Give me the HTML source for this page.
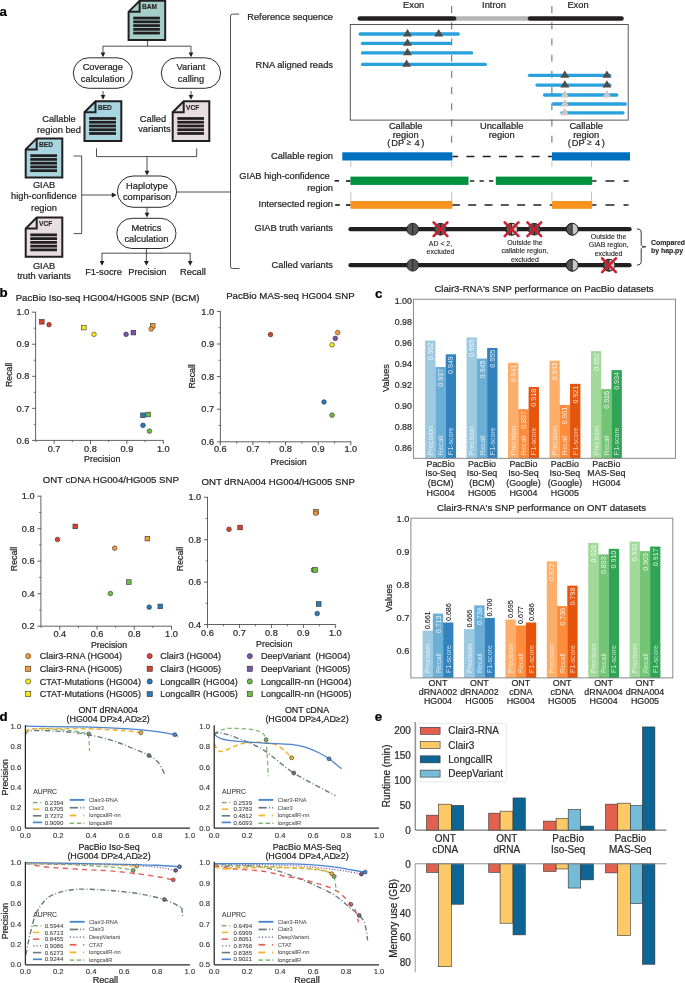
<!DOCTYPE html>
<html><head><meta charset="utf-8"><title>Figure</title>
<style>
html,body{margin:0;padding:0;background:#fff;}
body{width:685px;height:983px;overflow:hidden;}
svg{display:block;font-family:"Liberation Sans", sans-serif;will-change:transform;}
</style></head>
<body>
<svg width="685" height="983" viewBox="0 0 685 983">
<rect x="0" y="0" width="685" height="983" fill="#ffffff"/>
<text x="-0.60" y="15.79" font-size="13.3" text-anchor="start" fill="#000" font-weight="bold" stroke="#000" stroke-width="0.22">a</text>
<path d="M139.60,0.80 L165.20,0.80 L165.20,40.00 L128.60,40.00 L128.60,11.80 Z" stroke="#231f20" stroke-width="2.0" fill="#a4cec9" stroke-linecap="butt" stroke-linejoin="miter"/>
<path d="M139.60,0.80 L139.60,11.80 L128.60,11.80" stroke="#231f20" stroke-width="2.0" fill="none" stroke-linecap="butt" stroke-linejoin="miter"/>
<text x="142.00" y="9.38" font-size="6.6" text-anchor="start" fill="#231f20" font-weight="bold" stroke="#231f20" stroke-width="0.12">BAM</text>
<rect x="133.20" y="16.70" width="26.70" height="2.75" fill="#231f20" stroke="none" stroke-width="0"/>
<rect x="133.20" y="20.45" width="26.70" height="2.75" fill="#231f20" stroke="none" stroke-width="0"/>
<rect x="133.20" y="24.20" width="26.70" height="2.75" fill="#231f20" stroke="none" stroke-width="0"/>
<rect x="133.20" y="27.95" width="26.70" height="2.75" fill="#231f20" stroke="none" stroke-width="0"/>
<rect x="133.20" y="31.70" width="26.70" height="2.75" fill="#231f20" stroke="none" stroke-width="0"/>
<line x1="147.60" y1="40.00" x2="147.60" y2="46.20" stroke="#231f20" stroke-width="0.8" stroke-linecap="butt"/>
<line x1="102.80" y1="46.20" x2="191.00" y2="46.20" stroke="#231f20" stroke-width="0.8" stroke-linecap="butt"/>
<line x1="103.00" y1="46.20" x2="103.00" y2="53.00" stroke="#231f20" stroke-width="0.8" stroke-linecap="butt"/>
<path d="M100.60,52.50 L105.40,52.50 L103.00,57.30 Z" fill="#231f20"/>
<line x1="191.00" y1="46.20" x2="191.00" y2="53.00" stroke="#231f20" stroke-width="0.8" stroke-linecap="butt"/>
<path d="M188.60,52.50 L193.40,52.50 L191.00,57.30 Z" fill="#231f20"/>
<rect x="73.30" y="57.80" width="59.00" height="30.50" fill="#ffffff" stroke="#231f20" stroke-width="0.95" rx="15.25"/>
<rect x="161.30" y="57.80" width="59.30" height="30.50" fill="#ffffff" stroke="#231f20" stroke-width="0.95" rx="15.25"/>
<text x="102.80" y="70.41" font-size="9.3" text-anchor="middle" fill="#231f20" stroke="#231f20" stroke-width="0.22">Coverage</text>
<text x="102.80" y="81.71" font-size="9.3" text-anchor="middle" fill="#231f20" stroke="#231f20" stroke-width="0.22">calculation</text>
<text x="191.00" y="70.21" font-size="9.3" text-anchor="middle" fill="#231f20" stroke="#231f20" stroke-width="0.22">Variant</text>
<text x="191.00" y="81.51" font-size="9.3" text-anchor="middle" fill="#231f20" stroke="#231f20" stroke-width="0.22">calling</text>
<line x1="103.00" y1="91.00" x2="103.00" y2="95.50" stroke="#231f20" stroke-width="0.8" stroke-linecap="butt"/>
<path d="M100.60,95.00 L105.40,95.00 L103.00,99.80 Z" fill="#231f20"/>
<line x1="191.00" y1="91.00" x2="191.00" y2="95.50" stroke="#231f20" stroke-width="0.8" stroke-linecap="butt"/>
<path d="M188.60,95.00 L193.40,95.00 L191.00,99.80 Z" fill="#231f20"/>
<path d="M95.50,101.20 L121.30,101.20 L121.30,141.00 L84.50,141.00 L84.50,112.20 Z" stroke="#231f20" stroke-width="2.0" fill="#a7d6e0" stroke-linecap="butt" stroke-linejoin="miter"/>
<path d="M95.50,101.20 L95.50,112.20 L84.50,112.20" stroke="#231f20" stroke-width="2.0" fill="none" stroke-linecap="butt" stroke-linejoin="miter"/>
<text x="97.90" y="109.78" font-size="6.6" text-anchor="start" fill="#231f20" font-weight="bold" stroke="#231f20" stroke-width="0.12">BED</text>
<rect x="89.10" y="117.10" width="26.90" height="2.75" fill="#231f20" stroke="none" stroke-width="0"/>
<rect x="89.10" y="120.85" width="26.90" height="2.75" fill="#231f20" stroke="none" stroke-width="0"/>
<rect x="89.10" y="124.60" width="26.90" height="2.75" fill="#231f20" stroke="none" stroke-width="0"/>
<rect x="89.10" y="128.35" width="26.90" height="2.75" fill="#231f20" stroke="none" stroke-width="0"/>
<rect x="89.10" y="132.10" width="26.90" height="2.75" fill="#231f20" stroke="none" stroke-width="0"/>
<path d="M183.70,101.20 L209.30,101.20 L209.30,141.00 L172.70,141.00 L172.70,112.20 Z" stroke="#231f20" stroke-width="2.0" fill="#e8dee2" stroke-linecap="butt" stroke-linejoin="miter"/>
<path d="M183.70,101.20 L183.70,112.20 L172.70,112.20" stroke="#231f20" stroke-width="2.0" fill="none" stroke-linecap="butt" stroke-linejoin="miter"/>
<text x="186.10" y="109.78" font-size="6.6" text-anchor="start" fill="#231f20" font-weight="bold" stroke="#231f20" stroke-width="0.12">VCF</text>
<rect x="177.30" y="117.10" width="26.70" height="2.75" fill="#231f20" stroke="none" stroke-width="0"/>
<rect x="177.30" y="120.85" width="26.70" height="2.75" fill="#231f20" stroke="none" stroke-width="0"/>
<rect x="177.30" y="124.60" width="26.70" height="2.75" fill="#231f20" stroke="none" stroke-width="0"/>
<rect x="177.30" y="128.35" width="26.70" height="2.75" fill="#231f20" stroke="none" stroke-width="0"/>
<rect x="177.30" y="132.10" width="26.70" height="2.75" fill="#231f20" stroke="none" stroke-width="0"/>
<text x="59.00" y="122.21" font-size="9.3" text-anchor="middle" fill="#231f20" stroke="#231f20" stroke-width="0.22">Callable</text>
<text x="59.00" y="132.81" font-size="9.3" text-anchor="middle" fill="#231f20" stroke="#231f20" stroke-width="0.22">region bed</text>
<text x="153.00" y="121.71" font-size="9.3" text-anchor="middle" fill="#231f20" stroke="#231f20" stroke-width="0.22">Called</text>
<text x="154.50" y="132.41" font-size="9.3" text-anchor="middle" fill="#231f20" stroke="#231f20" stroke-width="0.22">variants</text>
<path d="M96.5,148.4 L96.5,156.6 L196.7,156.6 L196.7,148.4" stroke="#231f20" stroke-width="0.8" fill="none" stroke-linecap="butt" stroke-linejoin="miter"/>
<line x1="147.00" y1="156.60" x2="147.00" y2="171.30" stroke="#231f20" stroke-width="0.8" stroke-linecap="butt"/>
<path d="M144.60,170.80 L149.40,170.80 L147.00,175.60 Z" fill="#231f20"/>
<path d="M36.70,138.40 L62.30,138.40 L62.30,177.60 L25.70,177.60 L25.70,149.40 Z" stroke="#231f20" stroke-width="2.0" fill="#a7d6e0" stroke-linecap="butt" stroke-linejoin="miter"/>
<path d="M36.70,138.40 L36.70,149.40 L25.70,149.40" stroke="#231f20" stroke-width="2.0" fill="none" stroke-linecap="butt" stroke-linejoin="miter"/>
<text x="39.10" y="146.98" font-size="6.6" text-anchor="start" fill="#231f20" font-weight="bold" stroke="#231f20" stroke-width="0.12">BED</text>
<rect x="30.30" y="154.30" width="26.70" height="2.75" fill="#231f20" stroke="none" stroke-width="0"/>
<rect x="30.30" y="158.05" width="26.70" height="2.75" fill="#231f20" stroke="none" stroke-width="0"/>
<rect x="30.30" y="161.80" width="26.70" height="2.75" fill="#231f20" stroke="none" stroke-width="0"/>
<rect x="30.30" y="165.55" width="26.70" height="2.75" fill="#231f20" stroke="none" stroke-width="0"/>
<rect x="30.30" y="169.30" width="26.70" height="2.75" fill="#231f20" stroke="none" stroke-width="0"/>
<path d="M36.70,217.60 L62.30,217.60 L62.30,256.80 L25.70,256.80 L25.70,228.60 Z" stroke="#231f20" stroke-width="2.0" fill="#e8dee2" stroke-linecap="butt" stroke-linejoin="miter"/>
<path d="M36.70,217.60 L36.70,228.60 L25.70,228.60" stroke="#231f20" stroke-width="2.0" fill="none" stroke-linecap="butt" stroke-linejoin="miter"/>
<text x="39.10" y="226.18" font-size="6.6" text-anchor="start" fill="#231f20" font-weight="bold" stroke="#231f20" stroke-width="0.12">VCF</text>
<rect x="30.30" y="233.50" width="26.70" height="2.75" fill="#231f20" stroke="none" stroke-width="0"/>
<rect x="30.30" y="237.25" width="26.70" height="2.75" fill="#231f20" stroke="none" stroke-width="0"/>
<rect x="30.30" y="241.00" width="26.70" height="2.75" fill="#231f20" stroke="none" stroke-width="0"/>
<rect x="30.30" y="244.75" width="26.70" height="2.75" fill="#231f20" stroke="none" stroke-width="0"/>
<rect x="30.30" y="248.50" width="26.70" height="2.75" fill="#231f20" stroke="none" stroke-width="0"/>
<text x="44.00" y="188.01" font-size="9.3" text-anchor="middle" fill="#231f20" stroke="#231f20" stroke-width="0.22">GIAB</text>
<text x="43.80" y="199.21" font-size="9.3" text-anchor="middle" fill="#231f20" stroke="#231f20" stroke-width="0.22">high-confidence</text>
<text x="44.00" y="210.51" font-size="9.3" text-anchor="middle" fill="#231f20" stroke="#231f20" stroke-width="0.22">region</text>
<text x="44.00" y="268.51" font-size="9.3" text-anchor="middle" fill="#231f20" stroke="#231f20" stroke-width="0.22">GIAB</text>
<text x="44.00" y="279.21" font-size="9.3" text-anchor="middle" fill="#231f20" stroke="#231f20" stroke-width="0.22">truth variants</text>
<path d="M73.6,156.0 L81.7,156.0 L81.7,233.6 L73.6,233.6" stroke="#231f20" stroke-width="0.8" fill="none" stroke-linecap="butt" stroke-linejoin="miter"/>
<line x1="81.70" y1="195.00" x2="112.30" y2="195.00" stroke="#231f20" stroke-width="0.8" stroke-linecap="butt"/>
<path d="M111.80,192.60 L111.80,197.40 L116.60,195.00 Z" fill="#231f20"/>
<rect x="117.40" y="176.00" width="59.20" height="31.30" fill="#ffffff" stroke="#231f20" stroke-width="0.95" rx="15.650000000000006"/>
<text x="147.00" y="188.81" font-size="9.3" text-anchor="middle" fill="#231f20" stroke="#231f20" stroke-width="0.22">Haplotype</text>
<text x="147.00" y="200.01" font-size="9.3" text-anchor="middle" fill="#231f20" stroke="#231f20" stroke-width="0.22">comparison</text>
<line x1="147.00" y1="207.30" x2="147.00" y2="213.30" stroke="#231f20" stroke-width="0.8" stroke-linecap="butt"/>
<path d="M144.60,212.80 L149.40,212.80 L147.00,217.60 Z" fill="#231f20"/>
<rect x="116.80" y="218.30" width="59.20" height="30.20" fill="#ffffff" stroke="#231f20" stroke-width="0.95" rx="15.099999999999994"/>
<text x="146.40" y="230.91" font-size="9.3" text-anchor="middle" fill="#231f20" stroke="#231f20" stroke-width="0.22">Metrics</text>
<text x="146.40" y="241.51" font-size="9.3" text-anchor="middle" fill="#231f20" stroke="#231f20" stroke-width="0.22">calculation</text>
<line x1="146.40" y1="248.50" x2="146.40" y2="253.20" stroke="#231f20" stroke-width="0.8" stroke-linecap="butt"/>
<line x1="101.80" y1="253.20" x2="190.40" y2="253.20" stroke="#231f20" stroke-width="0.8" stroke-linecap="butt"/>
<line x1="102.00" y1="253.20" x2="102.00" y2="261.50" stroke="#231f20" stroke-width="0.8" stroke-linecap="butt"/>
<path d="M99.60,261.00 L104.40,261.00 L102.00,265.80 Z" fill="#231f20"/>
<line x1="146.40" y1="253.20" x2="146.40" y2="261.50" stroke="#231f20" stroke-width="0.8" stroke-linecap="butt"/>
<path d="M144.00,261.00 L148.80,261.00 L146.40,265.80 Z" fill="#231f20"/>
<line x1="190.20" y1="253.20" x2="190.20" y2="261.50" stroke="#231f20" stroke-width="0.8" stroke-linecap="butt"/>
<path d="M187.80,261.00 L192.60,261.00 L190.20,265.80 Z" fill="#231f20"/>
<text x="103.50" y="274.61" font-size="9.3" text-anchor="middle" fill="#231f20" stroke="#231f20" stroke-width="0.22">F1-socre</text>
<text x="147.40" y="274.61" font-size="9.3" text-anchor="middle" fill="#231f20" stroke="#231f20" stroke-width="0.22">Precision</text>
<text x="193.00" y="274.61" font-size="9.3" text-anchor="middle" fill="#231f20" stroke="#231f20" stroke-width="0.22">Recall</text>
<line x1="176.60" y1="192.00" x2="230.50" y2="192.00" stroke="#231f20" stroke-width="0.8" stroke-linecap="butt"/>
<path d="M239.2,14.1 L232.5,14.1 Q230.5,14.1 230.5,16.1 L230.5,266.5 Q230.5,268.5 232.5,268.5 L239.5,268.5" stroke="#231f20" stroke-width="0.8" fill="none" stroke-linecap="butt" stroke-linejoin="miter"/>
<text x="333.00" y="20.01" font-size="9.3" text-anchor="end" fill="#231f20" stroke="#231f20" stroke-width="0.22">Reference sequence</text>
<text x="333.00" y="67.71" font-size="9.3" text-anchor="end" fill="#231f20" stroke="#231f20" stroke-width="0.22">RNA aligned reads</text>
<text x="333.00" y="159.11" font-size="9.3" text-anchor="end" fill="#231f20" stroke="#231f20" stroke-width="0.22">Callable region</text>
<text x="329.80" y="179.31" font-size="9.3" text-anchor="end" fill="#231f20" stroke="#231f20" stroke-width="0.22">GIAB high-confidence</text>
<text x="333.00" y="191.01" font-size="9.3" text-anchor="end" fill="#231f20" stroke="#231f20" stroke-width="0.22">region</text>
<text x="333.00" y="207.21" font-size="9.3" text-anchor="end" fill="#231f20" stroke="#231f20" stroke-width="0.22">Intersected region</text>
<text x="333.00" y="231.31" font-size="9.3" text-anchor="end" fill="#231f20" stroke="#231f20" stroke-width="0.22">GIAB truth variants</text>
<text x="333.00" y="268.31" font-size="9.3" text-anchor="end" fill="#231f20" stroke="#231f20" stroke-width="0.22">Called variants</text>
<text x="413.70" y="7.61" font-size="9.3" text-anchor="middle" fill="#231f20" stroke="#231f20" stroke-width="0.22">Exon</text>
<text x="494.00" y="7.61" font-size="9.3" text-anchor="middle" fill="#231f20" stroke="#231f20" stroke-width="0.22">Intron</text>
<text x="578.00" y="7.61" font-size="9.3" text-anchor="middle" fill="#231f20" stroke="#231f20" stroke-width="0.22">Exon</text>
<line x1="451.70" y1="6.10" x2="451.70" y2="145.50" stroke="#666" stroke-width="1.0" stroke-linecap="butt" stroke-dasharray="7,9.2"/>
<line x1="451.70" y1="161.00" x2="451.70" y2="167.00" stroke="#aaa" stroke-width="0.7" stroke-linecap="butt"/>
<line x1="451.70" y1="191.50" x2="451.70" y2="201.00" stroke="#aaa" stroke-width="0.7" stroke-linecap="butt"/>
<line x1="551.90" y1="6.10" x2="551.90" y2="145.50" stroke="#666" stroke-width="1.0" stroke-linecap="butt" stroke-dasharray="7,9.2"/>
<line x1="551.90" y1="161.00" x2="551.90" y2="167.00" stroke="#aaa" stroke-width="0.7" stroke-linecap="butt"/>
<line x1="551.90" y1="191.50" x2="551.90" y2="201.00" stroke="#aaa" stroke-width="0.7" stroke-linecap="butt"/>
<line x1="455.50" y1="18.50" x2="528.40" y2="18.50" stroke="#b5b5b5" stroke-width="4.6" stroke-linecap="butt"/>
<line x1="359.80" y1="18.50" x2="454.10" y2="18.50" stroke="#231f20" stroke-width="4.6" stroke-linecap="round"/>
<line x1="530.00" y1="18.50" x2="621.50" y2="18.50" stroke="#231f20" stroke-width="4.6" stroke-linecap="round"/>
<rect x="350.30" y="24.50" width="277.90" height="95.60" fill="none" stroke="#4a4444" stroke-width="0.9"/>
<line x1="360.20" y1="34.00" x2="458.30" y2="34.00" stroke="#29a1dd" stroke-width="3.3" stroke-linecap="round"/>
<line x1="362.50" y1="43.40" x2="449.80" y2="43.40" stroke="#29a1dd" stroke-width="3.3" stroke-linecap="round"/>
<line x1="362.50" y1="52.90" x2="471.60" y2="52.90" stroke="#29a1dd" stroke-width="3.3" stroke-linecap="round"/>
<line x1="362.50" y1="64.40" x2="485.30" y2="64.40" stroke="#29a1dd" stroke-width="3.3" stroke-linecap="round"/>
<line x1="529.50" y1="75.30" x2="609.70" y2="75.30" stroke="#29a1dd" stroke-width="3.3" stroke-linecap="round"/>
<line x1="537.00" y1="85.10" x2="610.00" y2="85.10" stroke="#29a1dd" stroke-width="3.3" stroke-linecap="round"/>
<line x1="544.50" y1="95.00" x2="616.70" y2="95.00" stroke="#29a1dd" stroke-width="3.3" stroke-linecap="round"/>
<line x1="553.40" y1="104.00" x2="625.40" y2="104.00" stroke="#29a1dd" stroke-width="3.3" stroke-linecap="round"/>
<line x1="562.00" y1="112.80" x2="623.00" y2="112.80" stroke="#29a1dd" stroke-width="3.3" stroke-linecap="round"/>
<rect x="449.80" y="41.85" width="1.60" height="3.10" fill="#29a1dd" stroke="none" stroke-width="0"/>
<path d="M403.00,36.40 L412.00,36.40 L407.50,29.10 Z" fill="#4d4d4d"/>
<path d="M434.20,36.40 L443.20,36.40 L438.70,29.10 Z" fill="#4d4d4d"/>
<path d="M403.00,45.80 L412.00,45.80 L407.50,38.50 Z" fill="#4d4d4d"/>
<path d="M403.00,55.30 L412.00,55.30 L407.50,48.00 Z" fill="#4d4d4d"/>
<path d="M402.10,66.80 L411.10,66.80 L406.60,59.50 Z" fill="#4d4d4d"/>
<path d="M560.30,77.70 L569.30,77.70 L564.80,70.40 Z" fill="#4d4d4d"/>
<path d="M602.40,77.70 L611.40,77.70 L606.90,70.40 Z" fill="#4d4d4d"/>
<path d="M560.30,87.50 L569.30,87.50 L564.80,80.20 Z" fill="#4d4d4d"/>
<path d="M602.40,87.50 L611.40,87.50 L606.90,80.20 Z" fill="#4d4d4d"/>
<path d="M560.30,97.40 L569.30,97.40 L564.80,90.10 Z" fill="#c8c8c8"/>
<path d="M602.40,97.40 L611.40,97.40 L606.90,90.10 Z" fill="#c8c8c8"/>
<path d="M560.30,106.40 L569.30,106.40 L564.80,99.10 Z" fill="#c8c8c8"/>
<path d="M560.30,115.20 L569.30,115.20 L564.80,107.90 Z" fill="#c8c8c8"/>
<text x="405.70" y="129.41" font-size="9.3" text-anchor="middle" fill="#231f20" stroke="#231f20" stroke-width="0.22">Callable</text>
<text x="405.70" y="137.51" font-size="9.3" text-anchor="middle" fill="#231f20" stroke="#231f20" stroke-width="0.22">region</text>
<text x="391.20" y="145.91" font-size="9.3" text-anchor="start" fill="#231f20" stroke="#231f20" stroke-width="0.22">DP</text>
<text x="408.90" y="145.46" font-size="8.0" text-anchor="middle" fill="#231f20" stroke="#231f20" stroke-width="0.22">≥</text>
<text x="417.00" y="145.91" font-size="9.3" text-anchor="middle" fill="#231f20" stroke="#231f20" stroke-width="0.22">4</text>
<text x="388.80" y="145.91" font-size="9.3" text-anchor="middle" fill="#231f20" stroke="#231f20" stroke-width="0.22">(</text>
<text x="422.70" y="145.91" font-size="9.3" text-anchor="middle" fill="#231f20" stroke="#231f20" stroke-width="0.22">)</text>
<text x="586.20" y="129.41" font-size="9.3" text-anchor="middle" fill="#231f20" stroke="#231f20" stroke-width="0.22">Callable</text>
<text x="586.20" y="137.51" font-size="9.3" text-anchor="middle" fill="#231f20" stroke="#231f20" stroke-width="0.22">region</text>
<text x="571.70" y="145.91" font-size="9.3" text-anchor="start" fill="#231f20" stroke="#231f20" stroke-width="0.22">DP</text>
<text x="589.40" y="145.46" font-size="8.0" text-anchor="middle" fill="#231f20" stroke="#231f20" stroke-width="0.22">≥</text>
<text x="597.50" y="145.91" font-size="9.3" text-anchor="middle" fill="#231f20" stroke="#231f20" stroke-width="0.22">4</text>
<text x="569.30" y="145.91" font-size="9.3" text-anchor="middle" fill="#231f20" stroke="#231f20" stroke-width="0.22">(</text>
<text x="603.20" y="145.91" font-size="9.3" text-anchor="middle" fill="#231f20" stroke="#231f20" stroke-width="0.22">)</text>
<text x="501.70" y="129.41" font-size="9.3" text-anchor="middle" fill="#231f20" stroke="#231f20" stroke-width="0.22">Uncallable</text>
<text x="501.70" y="137.51" font-size="9.3" text-anchor="middle" fill="#231f20" stroke="#231f20" stroke-width="0.22">region</text>
<rect x="342.30" y="152.30" width="110.10" height="8.20" fill="#0070c0" stroke="none" stroke-width="0"/>
<rect x="551.90" y="152.30" width="78.10" height="8.20" fill="#0070c0" stroke="none" stroke-width="0"/>
<line x1="452.4" y1="156.5" x2="551.9" y2="156.5" stroke="#231f20" stroke-width="1.7" stroke-dasharray="8,8.3" stroke-dashoffset="2.3"/>
<rect x="350.40" y="176.60" width="118.10" height="8.30" fill="#00923f" stroke="none" stroke-width="0"/>
<rect x="495.80" y="176.60" width="96.40" height="8.30" fill="#00923f" stroke="none" stroke-width="0"/>
<line x1="346.00" y1="181.00" x2="350.40" y2="181.00" stroke="#231f20" stroke-width="1.7" stroke-linecap="butt"/>
<line x1="334.60" y1="180.80" x2="339.00" y2="180.80" stroke="#231f20" stroke-width="1.7" stroke-linecap="butt"/>
<line x1="468.5" y1="181.0" x2="495.8" y2="181.0" stroke="#231f20" stroke-width="1.7" stroke-dasharray="4.3,5.2" stroke-dashoffset="-1.5"/>
<line x1="592.2" y1="181.0" x2="628.5" y2="181.0" stroke="#231f20" stroke-width="1.7" stroke-dasharray="9,9" stroke-dashoffset="4.7"/>
<rect x="350.40" y="201.00" width="102.00" height="7.80" fill="#f7931e" stroke="none" stroke-width="0"/>
<rect x="551.90" y="201.00" width="40.30" height="7.80" fill="#f7931e" stroke="none" stroke-width="0"/>
<line x1="346.00" y1="205.00" x2="350.40" y2="205.00" stroke="#231f20" stroke-width="1.7" stroke-linecap="butt"/>
<line x1="335.20" y1="205.00" x2="339.80" y2="205.00" stroke="#231f20" stroke-width="1.7" stroke-linecap="butt"/>
<line x1="452.4" y1="205.0" x2="551.9" y2="205.0" stroke="#231f20" stroke-width="1.7" stroke-dasharray="8,8.3" stroke-dashoffset="0.5"/>
<line x1="592.2" y1="205.0" x2="628.5" y2="205.0" stroke="#231f20" stroke-width="1.7" stroke-dasharray="9,9" stroke-dashoffset="4.7"/>
<line x1="350.80" y1="161.00" x2="350.80" y2="167.00" stroke="#aaa" stroke-width="0.7" stroke-linecap="butt"/>
<line x1="350.80" y1="191.50" x2="350.80" y2="201.00" stroke="#aaa" stroke-width="0.7" stroke-linecap="butt"/>
<line x1="591.50" y1="161.00" x2="591.50" y2="167.00" stroke="#aaa" stroke-width="0.7" stroke-linecap="butt"/>
<line x1="591.50" y1="191.50" x2="591.50" y2="201.00" stroke="#aaa" stroke-width="0.7" stroke-linecap="butt"/>
<line x1="350.50" y1="229.20" x2="629.50" y2="229.20" stroke="#231f20" stroke-width="4.3" stroke-linecap="round"/>
<line x1="350.50" y1="265.20" x2="629.50" y2="265.20" stroke="#231f20" stroke-width="4.3" stroke-linecap="round"/>
<circle cx="412.70" cy="229.20" r="5.9" fill="#555555" stroke="#231f20" stroke-width="0.9"/>
<line x1="412.70" y1="223.30" x2="412.70" y2="235.10" stroke="#231f20" stroke-width="0.9" stroke-linecap="butt"/>
<circle cx="440.50" cy="229.20" r="5.9" fill="#555555" stroke="#231f20" stroke-width="0.9"/>
<line x1="440.50" y1="223.30" x2="440.50" y2="235.10" stroke="#231f20" stroke-width="0.9" stroke-linecap="butt"/>
<line x1="433.60" y1="222.30" x2="447.40" y2="236.10" stroke="#cb2030" stroke-width="2.6" stroke-linecap="round"/>
<line x1="433.60" y1="236.10" x2="447.40" y2="222.30" stroke="#cb2030" stroke-width="2.6" stroke-linecap="round"/>
<circle cx="511.60" cy="229.20" r="5.9" fill="#555555" stroke="#231f20" stroke-width="0.9"/>
<path d="M511.60,223.30 A5.9,5.9 0 0 1 511.60,235.10 Z" fill="#c8c8c8"/>
<circle cx="511.60" cy="229.20" r="5.9" fill="none" stroke="#231f20" stroke-width="0.9"/>
<line x1="511.60" y1="223.30" x2="511.60" y2="235.10" stroke="#231f20" stroke-width="0.9" stroke-linecap="butt"/>
<line x1="504.70" y1="222.30" x2="518.50" y2="236.10" stroke="#cb2030" stroke-width="2.6" stroke-linecap="round"/>
<line x1="504.70" y1="236.10" x2="518.50" y2="222.30" stroke="#cb2030" stroke-width="2.6" stroke-linecap="round"/>
<circle cx="534.30" cy="229.20" r="5.9" fill="#555555" stroke="#231f20" stroke-width="0.9"/>
<line x1="534.30" y1="223.30" x2="534.30" y2="235.10" stroke="#231f20" stroke-width="0.9" stroke-linecap="butt"/>
<line x1="527.40" y1="222.30" x2="541.20" y2="236.10" stroke="#cb2030" stroke-width="2.6" stroke-linecap="round"/>
<line x1="527.40" y1="236.10" x2="541.20" y2="222.30" stroke="#cb2030" stroke-width="2.6" stroke-linecap="round"/>
<circle cx="572.20" cy="229.20" r="5.9" fill="#555555" stroke="#231f20" stroke-width="0.9"/>
<path d="M572.20,223.30 A5.9,5.9 0 0 1 572.20,235.10 Z" fill="#c8c8c8"/>
<circle cx="572.20" cy="229.20" r="5.9" fill="none" stroke="#231f20" stroke-width="0.9"/>
<line x1="572.20" y1="223.30" x2="572.20" y2="235.10" stroke="#231f20" stroke-width="0.9" stroke-linecap="butt"/>
<circle cx="412.70" cy="265.20" r="5.9" fill="#555555" stroke="#231f20" stroke-width="0.9"/>
<line x1="412.70" y1="259.30" x2="412.70" y2="271.10" stroke="#231f20" stroke-width="0.9" stroke-linecap="butt"/>
<circle cx="572.20" cy="265.20" r="5.9" fill="#555555" stroke="#231f20" stroke-width="0.9"/>
<path d="M572.20,259.30 A5.9,5.9 0 0 1 572.20,271.10 Z" fill="#c8c8c8"/>
<circle cx="572.20" cy="265.20" r="5.9" fill="none" stroke="#231f20" stroke-width="0.9"/>
<line x1="572.20" y1="259.30" x2="572.20" y2="271.10" stroke="#231f20" stroke-width="0.9" stroke-linecap="butt"/>
<circle cx="609.00" cy="265.20" r="5.9" fill="#555555" stroke="#231f20" stroke-width="0.9"/>
<path d="M609.00,259.30 A5.9,5.9 0 0 1 609.00,271.10 Z" fill="#c8c8c8"/>
<circle cx="609.00" cy="265.20" r="5.9" fill="none" stroke="#231f20" stroke-width="0.9"/>
<line x1="609.00" y1="259.30" x2="609.00" y2="271.10" stroke="#231f20" stroke-width="0.9" stroke-linecap="butt"/>
<line x1="602.10" y1="258.30" x2="615.90" y2="272.10" stroke="#cb2030" stroke-width="2.6" stroke-linecap="round"/>
<line x1="602.10" y1="272.10" x2="615.90" y2="258.30" stroke="#cb2030" stroke-width="2.6" stroke-linecap="round"/>
<text x="440.50" y="245.90" font-size="6.95" text-anchor="middle" fill="#231f20" stroke="#231f20" stroke-width="0.12">AD &lt; 2,</text>
<text x="440.50" y="254.30" font-size="6.95" text-anchor="middle" fill="#231f20" stroke="#231f20" stroke-width="0.12">excluded</text>
<text x="524.90" y="245.00" font-size="6.95" text-anchor="middle" fill="#231f20" stroke="#231f20" stroke-width="0.12">Outside the</text>
<text x="524.90" y="253.30" font-size="6.95" text-anchor="middle" fill="#231f20" stroke="#231f20" stroke-width="0.12">callable region,</text>
<text x="524.90" y="261.60" font-size="6.95" text-anchor="middle" fill="#231f20" stroke="#231f20" stroke-width="0.12">excluded</text>
<text x="608.60" y="238.70" font-size="6.95" text-anchor="middle" fill="#231f20" stroke="#231f20" stroke-width="0.12">Outside the</text>
<text x="608.60" y="247.20" font-size="6.95" text-anchor="middle" fill="#231f20" stroke="#231f20" stroke-width="0.12">GIAB region,</text>
<text x="608.60" y="255.70" font-size="6.95" text-anchor="middle" fill="#231f20" stroke="#231f20" stroke-width="0.12">excluded</text>
<path d="M637.0,229.0 Q641.2,229.0 641.2,232.5 L641.2,244.2 Q641.2,246.8 645.8,246.8 Q641.2,246.8 641.2,249.4 L641.2,261.5 Q641.2,265.0 637.0,265.0" stroke="#231f20" stroke-width="0.9" fill="none" stroke-linecap="butt" stroke-linejoin="miter"/>
<text x="651.00" y="244.98" font-size="6.9" text-anchor="start" fill="#231f20" font-weight="bold" stroke="#231f20" stroke-width="0.12">Compared</text>
<text x="651.00" y="252.98" font-size="6.9" text-anchor="start" fill="#231f20" font-weight="bold" stroke="#231f20" stroke-width="0.12">by hap.py</text>
<text x="-0.40" y="297.49" font-size="13.3" text-anchor="start" fill="#000" font-weight="bold" stroke="#000" stroke-width="0.22">b</text>
<line x1="35.60" y1="311.80" x2="35.60" y2="440.40" stroke="#3a3a3a" stroke-width="0.8" stroke-linecap="butt"/>
<line x1="35.60" y1="440.40" x2="163.60" y2="440.40" stroke="#3a3a3a" stroke-width="0.8" stroke-linecap="butt"/>
<line x1="32.10" y1="440.40" x2="35.60" y2="440.40" stroke="#3a3a3a" stroke-width="0.8" stroke-linecap="butt"/>
<line x1="32.10" y1="408.35" x2="35.60" y2="408.35" stroke="#3a3a3a" stroke-width="0.8" stroke-linecap="butt"/>
<line x1="32.10" y1="376.30" x2="35.60" y2="376.30" stroke="#3a3a3a" stroke-width="0.8" stroke-linecap="butt"/>
<line x1="32.10" y1="344.25" x2="35.60" y2="344.25" stroke="#3a3a3a" stroke-width="0.8" stroke-linecap="butt"/>
<line x1="32.10" y1="312.20" x2="35.60" y2="312.20" stroke="#3a3a3a" stroke-width="0.8" stroke-linecap="butt"/>
<line x1="33.80" y1="424.37" x2="35.60" y2="424.37" stroke="#3a3a3a" stroke-width="0.7" stroke-linecap="butt"/>
<line x1="33.80" y1="392.32" x2="35.60" y2="392.32" stroke="#3a3a3a" stroke-width="0.7" stroke-linecap="butt"/>
<line x1="33.80" y1="360.27" x2="35.60" y2="360.27" stroke="#3a3a3a" stroke-width="0.7" stroke-linecap="butt"/>
<line x1="33.80" y1="328.23" x2="35.60" y2="328.23" stroke="#3a3a3a" stroke-width="0.7" stroke-linecap="butt"/>
<line x1="54.10" y1="440.40" x2="54.10" y2="443.90" stroke="#3a3a3a" stroke-width="0.8" stroke-linecap="butt"/>
<line x1="90.50" y1="440.40" x2="90.50" y2="443.90" stroke="#3a3a3a" stroke-width="0.8" stroke-linecap="butt"/>
<line x1="126.90" y1="440.40" x2="126.90" y2="443.90" stroke="#3a3a3a" stroke-width="0.8" stroke-linecap="butt"/>
<line x1="163.30" y1="440.40" x2="163.30" y2="443.90" stroke="#3a3a3a" stroke-width="0.8" stroke-linecap="butt"/>
<line x1="35.90" y1="440.40" x2="35.90" y2="442.20" stroke="#3a3a3a" stroke-width="0.7" stroke-linecap="butt"/>
<line x1="72.30" y1="440.40" x2="72.30" y2="442.20" stroke="#3a3a3a" stroke-width="0.7" stroke-linecap="butt"/>
<line x1="108.70" y1="440.40" x2="108.70" y2="442.20" stroke="#3a3a3a" stroke-width="0.7" stroke-linecap="butt"/>
<line x1="145.10" y1="440.40" x2="145.10" y2="442.20" stroke="#3a3a3a" stroke-width="0.7" stroke-linecap="butt"/>
<text x="29.30" y="443.57" font-size="9.2" text-anchor="end" fill="#2a2a2a" stroke="#2a2a2a" stroke-width="0.22">0.6</text>
<text x="29.30" y="411.52" font-size="9.2" text-anchor="end" fill="#2a2a2a" stroke="#2a2a2a" stroke-width="0.22">0.7</text>
<text x="29.30" y="379.47" font-size="9.2" text-anchor="end" fill="#2a2a2a" stroke="#2a2a2a" stroke-width="0.22">0.8</text>
<text x="29.30" y="347.42" font-size="9.2" text-anchor="end" fill="#2a2a2a" stroke="#2a2a2a" stroke-width="0.22">0.9</text>
<text x="29.30" y="315.37" font-size="9.2" text-anchor="end" fill="#2a2a2a" stroke="#2a2a2a" stroke-width="0.22">1.0</text>
<text x="54.10" y="451.57" font-size="9.2" text-anchor="middle" fill="#2a2a2a" stroke="#2a2a2a" stroke-width="0.22">0.7</text>
<text x="90.50" y="451.57" font-size="9.2" text-anchor="middle" fill="#2a2a2a" stroke="#2a2a2a" stroke-width="0.22">0.8</text>
<text x="126.90" y="451.57" font-size="9.2" text-anchor="middle" fill="#2a2a2a" stroke="#2a2a2a" stroke-width="0.22">0.9</text>
<text x="163.30" y="451.57" font-size="9.2" text-anchor="middle" fill="#2a2a2a" stroke="#2a2a2a" stroke-width="0.22">1.0</text>
<text x="107.60" y="300.83" font-size="9.65" text-anchor="middle" fill="#231f20" stroke="#231f20" stroke-width="0.22">PacBio Iso-seq HG004/HG005 SNP (BCM)</text>
<text x="102.20" y="462.44" font-size="8.8" text-anchor="middle" fill="#231f20" stroke="#231f20" stroke-width="0.22">Precision</text>
<text transform="translate(8.80,374.90) rotate(-90)" x="0" y="3.04" font-size="8.8" text-anchor="middle" fill="#231f20" stroke="#231f20" stroke-width="0.22">Recall</text>
<rect x="39.45" y="319.45" width="4.70" height="4.70" fill="#d9412f" stroke="#2a2a2a" stroke-width="0.55"/>
<circle cx="49.00" cy="324.70" r="2.35" fill="#d9412f" stroke="#2a2a2a" stroke-width="0.55"/>
<rect x="81.45" y="325.25" width="4.70" height="4.70" fill="#f7e61d" stroke="#2a2a2a" stroke-width="0.55"/>
<circle cx="94.00" cy="334.30" r="2.35" fill="#f7e61d" stroke="#2a2a2a" stroke-width="0.55"/>
<circle cx="126.10" cy="334.30" r="2.35" fill="#7c52ad" stroke="#2a2a2a" stroke-width="0.55"/>
<rect x="131.05" y="330.25" width="4.70" height="4.70" fill="#7c52ad" stroke="#2a2a2a" stroke-width="0.55"/>
<rect x="150.35" y="323.45" width="4.70" height="4.70" fill="#f39a3b" stroke="#2a2a2a" stroke-width="0.55"/>
<circle cx="151.20" cy="329.00" r="2.35" fill="#f39a3b" stroke="#2a2a2a" stroke-width="0.55"/>
<rect x="140.65" y="412.95" width="4.70" height="4.70" fill="#2b7bb9" stroke="#2a2a2a" stroke-width="0.55"/>
<rect x="145.95" y="412.15" width="4.70" height="4.70" fill="#6dbd45" stroke="#2a2a2a" stroke-width="0.55"/>
<circle cx="143.00" cy="425.30" r="2.35" fill="#2b7bb9" stroke="#2a2a2a" stroke-width="0.55"/>
<circle cx="149.50" cy="431.10" r="2.35" fill="#6dbd45" stroke="#2a2a2a" stroke-width="0.55"/>
<line x1="220.40" y1="311.00" x2="220.40" y2="441.80" stroke="#3a3a3a" stroke-width="0.8" stroke-linecap="butt"/>
<line x1="220.40" y1="441.80" x2="351.30" y2="441.80" stroke="#3a3a3a" stroke-width="0.8" stroke-linecap="butt"/>
<line x1="216.90" y1="441.80" x2="220.40" y2="441.80" stroke="#3a3a3a" stroke-width="0.8" stroke-linecap="butt"/>
<line x1="216.90" y1="409.20" x2="220.40" y2="409.20" stroke="#3a3a3a" stroke-width="0.8" stroke-linecap="butt"/>
<line x1="216.90" y1="376.60" x2="220.40" y2="376.60" stroke="#3a3a3a" stroke-width="0.8" stroke-linecap="butt"/>
<line x1="216.90" y1="344.00" x2="220.40" y2="344.00" stroke="#3a3a3a" stroke-width="0.8" stroke-linecap="butt"/>
<line x1="216.90" y1="311.40" x2="220.40" y2="311.40" stroke="#3a3a3a" stroke-width="0.8" stroke-linecap="butt"/>
<line x1="218.60" y1="425.50" x2="220.40" y2="425.50" stroke="#3a3a3a" stroke-width="0.7" stroke-linecap="butt"/>
<line x1="218.60" y1="392.90" x2="220.40" y2="392.90" stroke="#3a3a3a" stroke-width="0.7" stroke-linecap="butt"/>
<line x1="218.60" y1="360.30" x2="220.40" y2="360.30" stroke="#3a3a3a" stroke-width="0.7" stroke-linecap="butt"/>
<line x1="218.60" y1="327.70" x2="220.40" y2="327.70" stroke="#3a3a3a" stroke-width="0.7" stroke-linecap="butt"/>
<line x1="220.30" y1="441.80" x2="220.30" y2="445.30" stroke="#3a3a3a" stroke-width="0.8" stroke-linecap="butt"/>
<line x1="252.93" y1="441.80" x2="252.93" y2="445.30" stroke="#3a3a3a" stroke-width="0.8" stroke-linecap="butt"/>
<line x1="285.55" y1="441.80" x2="285.55" y2="445.30" stroke="#3a3a3a" stroke-width="0.8" stroke-linecap="butt"/>
<line x1="318.18" y1="441.80" x2="318.18" y2="445.30" stroke="#3a3a3a" stroke-width="0.8" stroke-linecap="butt"/>
<line x1="350.80" y1="441.80" x2="350.80" y2="445.30" stroke="#3a3a3a" stroke-width="0.8" stroke-linecap="butt"/>
<line x1="236.61" y1="441.80" x2="236.61" y2="443.60" stroke="#3a3a3a" stroke-width="0.7" stroke-linecap="butt"/>
<line x1="269.24" y1="441.80" x2="269.24" y2="443.60" stroke="#3a3a3a" stroke-width="0.7" stroke-linecap="butt"/>
<line x1="301.86" y1="441.80" x2="301.86" y2="443.60" stroke="#3a3a3a" stroke-width="0.7" stroke-linecap="butt"/>
<line x1="334.49" y1="441.80" x2="334.49" y2="443.60" stroke="#3a3a3a" stroke-width="0.7" stroke-linecap="butt"/>
<text x="214.10" y="444.97" font-size="9.2" text-anchor="end" fill="#2a2a2a" stroke="#2a2a2a" stroke-width="0.22">0.6</text>
<text x="214.10" y="412.37" font-size="9.2" text-anchor="end" fill="#2a2a2a" stroke="#2a2a2a" stroke-width="0.22">0.7</text>
<text x="214.10" y="379.77" font-size="9.2" text-anchor="end" fill="#2a2a2a" stroke="#2a2a2a" stroke-width="0.22">0.8</text>
<text x="214.10" y="347.17" font-size="9.2" text-anchor="end" fill="#2a2a2a" stroke="#2a2a2a" stroke-width="0.22">0.9</text>
<text x="214.10" y="314.57" font-size="9.2" text-anchor="end" fill="#2a2a2a" stroke="#2a2a2a" stroke-width="0.22">1.0</text>
<text x="220.30" y="452.47" font-size="9.2" text-anchor="middle" fill="#2a2a2a" stroke="#2a2a2a" stroke-width="0.22">0.6</text>
<text x="252.93" y="452.47" font-size="9.2" text-anchor="middle" fill="#2a2a2a" stroke="#2a2a2a" stroke-width="0.22">0.7</text>
<text x="285.55" y="452.47" font-size="9.2" text-anchor="middle" fill="#2a2a2a" stroke="#2a2a2a" stroke-width="0.22">0.8</text>
<text x="318.18" y="452.47" font-size="9.2" text-anchor="middle" fill="#2a2a2a" stroke="#2a2a2a" stroke-width="0.22">0.9</text>
<text x="350.80" y="452.47" font-size="9.2" text-anchor="middle" fill="#2a2a2a" stroke="#2a2a2a" stroke-width="0.22">1.0</text>
<text x="290.40" y="298.53" font-size="9.65" text-anchor="middle" fill="#231f20" stroke="#231f20" stroke-width="0.22">PacBio MAS-seq HG004 SNP</text>
<text x="288.60" y="464.64" font-size="8.8" text-anchor="middle" fill="#231f20" stroke="#231f20" stroke-width="0.22">Precision</text>
<text transform="translate(192.30,376.40) rotate(-90)" x="0" y="3.04" font-size="8.8" text-anchor="middle" fill="#231f20" stroke="#231f20" stroke-width="0.22">Recall</text>
<circle cx="270.50" cy="334.60" r="2.35" fill="#d9412f" stroke="#2a2a2a" stroke-width="0.55"/>
<circle cx="337.70" cy="332.60" r="2.35" fill="#f39a3b" stroke="#2a2a2a" stroke-width="0.55"/>
<circle cx="335.30" cy="338.40" r="2.35" fill="#7c52ad" stroke="#2a2a2a" stroke-width="0.55"/>
<circle cx="332.10" cy="344.80" r="2.35" fill="#f7e61d" stroke="#2a2a2a" stroke-width="0.55"/>
<circle cx="324.00" cy="402.00" r="2.35" fill="#2b7bb9" stroke="#2a2a2a" stroke-width="0.55"/>
<circle cx="332.10" cy="415.20" r="2.35" fill="#6dbd45" stroke="#2a2a2a" stroke-width="0.55"/>
<line x1="40.90" y1="495.70" x2="40.90" y2="626.20" stroke="#3a3a3a" stroke-width="0.8" stroke-linecap="butt"/>
<line x1="40.90" y1="626.20" x2="171.80" y2="626.20" stroke="#3a3a3a" stroke-width="0.8" stroke-linecap="butt"/>
<line x1="37.40" y1="626.20" x2="40.90" y2="626.20" stroke="#3a3a3a" stroke-width="0.8" stroke-linecap="butt"/>
<line x1="37.40" y1="593.70" x2="40.90" y2="593.70" stroke="#3a3a3a" stroke-width="0.8" stroke-linecap="butt"/>
<line x1="37.40" y1="561.20" x2="40.90" y2="561.20" stroke="#3a3a3a" stroke-width="0.8" stroke-linecap="butt"/>
<line x1="37.40" y1="528.70" x2="40.90" y2="528.70" stroke="#3a3a3a" stroke-width="0.8" stroke-linecap="butt"/>
<line x1="37.40" y1="496.20" x2="40.90" y2="496.20" stroke="#3a3a3a" stroke-width="0.8" stroke-linecap="butt"/>
<line x1="39.10" y1="609.95" x2="40.90" y2="609.95" stroke="#3a3a3a" stroke-width="0.7" stroke-linecap="butt"/>
<line x1="39.10" y1="577.45" x2="40.90" y2="577.45" stroke="#3a3a3a" stroke-width="0.7" stroke-linecap="butt"/>
<line x1="39.10" y1="544.95" x2="40.90" y2="544.95" stroke="#3a3a3a" stroke-width="0.7" stroke-linecap="butt"/>
<line x1="39.10" y1="512.45" x2="40.90" y2="512.45" stroke="#3a3a3a" stroke-width="0.7" stroke-linecap="butt"/>
<line x1="59.80" y1="626.20" x2="59.80" y2="629.70" stroke="#3a3a3a" stroke-width="0.8" stroke-linecap="butt"/>
<line x1="97.03" y1="626.20" x2="97.03" y2="629.70" stroke="#3a3a3a" stroke-width="0.8" stroke-linecap="butt"/>
<line x1="134.27" y1="626.20" x2="134.27" y2="629.70" stroke="#3a3a3a" stroke-width="0.8" stroke-linecap="butt"/>
<line x1="171.50" y1="626.20" x2="171.50" y2="629.70" stroke="#3a3a3a" stroke-width="0.8" stroke-linecap="butt"/>
<line x1="41.18" y1="626.20" x2="41.18" y2="628.00" stroke="#3a3a3a" stroke-width="0.7" stroke-linecap="butt"/>
<line x1="78.42" y1="626.20" x2="78.42" y2="628.00" stroke="#3a3a3a" stroke-width="0.7" stroke-linecap="butt"/>
<line x1="115.65" y1="626.20" x2="115.65" y2="628.00" stroke="#3a3a3a" stroke-width="0.7" stroke-linecap="butt"/>
<line x1="152.88" y1="626.20" x2="152.88" y2="628.00" stroke="#3a3a3a" stroke-width="0.7" stroke-linecap="butt"/>
<text x="34.60" y="629.37" font-size="9.2" text-anchor="end" fill="#2a2a2a" stroke="#2a2a2a" stroke-width="0.22">0.2</text>
<text x="34.60" y="596.87" font-size="9.2" text-anchor="end" fill="#2a2a2a" stroke="#2a2a2a" stroke-width="0.22">0.4</text>
<text x="34.60" y="564.37" font-size="9.2" text-anchor="end" fill="#2a2a2a" stroke="#2a2a2a" stroke-width="0.22">0.6</text>
<text x="34.60" y="531.87" font-size="9.2" text-anchor="end" fill="#2a2a2a" stroke="#2a2a2a" stroke-width="0.22">0.8</text>
<text x="34.60" y="499.37" font-size="9.2" text-anchor="end" fill="#2a2a2a" stroke="#2a2a2a" stroke-width="0.22">1.0</text>
<text x="59.80" y="637.37" font-size="9.2" text-anchor="middle" fill="#2a2a2a" stroke="#2a2a2a" stroke-width="0.22">0.4</text>
<text x="97.03" y="637.37" font-size="9.2" text-anchor="middle" fill="#2a2a2a" stroke="#2a2a2a" stroke-width="0.22">0.6</text>
<text x="134.27" y="637.37" font-size="9.2" text-anchor="middle" fill="#2a2a2a" stroke="#2a2a2a" stroke-width="0.22">0.8</text>
<text x="171.50" y="637.37" font-size="9.2" text-anchor="middle" fill="#2a2a2a" stroke="#2a2a2a" stroke-width="0.22">1.0</text>
<text x="110.80" y="483.43" font-size="9.65" text-anchor="middle" fill="#231f20" stroke="#231f20" stroke-width="0.22">ONT cDNA HG004/HG005 SNP</text>
<text transform="translate(14.00,559.00) rotate(-90)" x="0" y="3.04" font-size="8.8" text-anchor="middle" fill="#231f20" stroke="#231f20" stroke-width="0.22">Recall</text>
<rect x="72.95" y="524.05" width="4.70" height="4.70" fill="#d9412f" stroke="#2a2a2a" stroke-width="0.55"/>
<circle cx="57.50" cy="539.50" r="2.35" fill="#d9412f" stroke="#2a2a2a" stroke-width="0.55"/>
<rect x="145.05" y="536.25" width="4.70" height="4.70" fill="#f39a3b" stroke="#2a2a2a" stroke-width="0.55"/>
<circle cx="114.70" cy="548.20" r="2.35" fill="#f39a3b" stroke="#2a2a2a" stroke-width="0.55"/>
<rect x="126.45" y="579.75" width="4.70" height="4.70" fill="#6dbd45" stroke="#2a2a2a" stroke-width="0.55"/>
<circle cx="110.40" cy="593.50" r="2.35" fill="#6dbd45" stroke="#2a2a2a" stroke-width="0.55"/>
<circle cx="149.20" cy="607.20" r="2.35" fill="#2b7bb9" stroke="#2a2a2a" stroke-width="0.55"/>
<rect x="157.95" y="604.05" width="4.70" height="4.70" fill="#2b7bb9" stroke="#2a2a2a" stroke-width="0.55"/>
<line x1="207.50" y1="496.80" x2="207.50" y2="624.50" stroke="#3a3a3a" stroke-width="0.8" stroke-linecap="butt"/>
<line x1="207.50" y1="624.50" x2="335.60" y2="624.50" stroke="#3a3a3a" stroke-width="0.8" stroke-linecap="butt"/>
<line x1="204.00" y1="624.50" x2="207.50" y2="624.50" stroke="#3a3a3a" stroke-width="0.8" stroke-linecap="butt"/>
<line x1="204.00" y1="582.10" x2="207.50" y2="582.10" stroke="#3a3a3a" stroke-width="0.8" stroke-linecap="butt"/>
<line x1="204.00" y1="539.70" x2="207.50" y2="539.70" stroke="#3a3a3a" stroke-width="0.8" stroke-linecap="butt"/>
<line x1="204.00" y1="497.30" x2="207.50" y2="497.30" stroke="#3a3a3a" stroke-width="0.8" stroke-linecap="butt"/>
<line x1="205.70" y1="603.30" x2="207.50" y2="603.30" stroke="#3a3a3a" stroke-width="0.7" stroke-linecap="butt"/>
<line x1="205.70" y1="560.90" x2="207.50" y2="560.90" stroke="#3a3a3a" stroke-width="0.7" stroke-linecap="butt"/>
<line x1="205.70" y1="518.50" x2="207.50" y2="518.50" stroke="#3a3a3a" stroke-width="0.7" stroke-linecap="butt"/>
<line x1="207.50" y1="624.50" x2="207.50" y2="628.00" stroke="#3a3a3a" stroke-width="0.8" stroke-linecap="butt"/>
<line x1="239.45" y1="624.50" x2="239.45" y2="628.00" stroke="#3a3a3a" stroke-width="0.8" stroke-linecap="butt"/>
<line x1="271.40" y1="624.50" x2="271.40" y2="628.00" stroke="#3a3a3a" stroke-width="0.8" stroke-linecap="butt"/>
<line x1="303.35" y1="624.50" x2="303.35" y2="628.00" stroke="#3a3a3a" stroke-width="0.8" stroke-linecap="butt"/>
<line x1="335.30" y1="624.50" x2="335.30" y2="628.00" stroke="#3a3a3a" stroke-width="0.8" stroke-linecap="butt"/>
<line x1="223.48" y1="624.50" x2="223.48" y2="626.30" stroke="#3a3a3a" stroke-width="0.7" stroke-linecap="butt"/>
<line x1="255.43" y1="624.50" x2="255.43" y2="626.30" stroke="#3a3a3a" stroke-width="0.7" stroke-linecap="butt"/>
<line x1="287.38" y1="624.50" x2="287.38" y2="626.30" stroke="#3a3a3a" stroke-width="0.7" stroke-linecap="butt"/>
<line x1="319.32" y1="624.50" x2="319.32" y2="626.30" stroke="#3a3a3a" stroke-width="0.7" stroke-linecap="butt"/>
<text x="201.20" y="627.67" font-size="9.2" text-anchor="end" fill="#2a2a2a" stroke="#2a2a2a" stroke-width="0.22">0.4</text>
<text x="201.20" y="585.27" font-size="9.2" text-anchor="end" fill="#2a2a2a" stroke="#2a2a2a" stroke-width="0.22">0.6</text>
<text x="201.20" y="542.87" font-size="9.2" text-anchor="end" fill="#2a2a2a" stroke="#2a2a2a" stroke-width="0.22">0.8</text>
<text x="201.20" y="500.47" font-size="9.2" text-anchor="end" fill="#2a2a2a" stroke="#2a2a2a" stroke-width="0.22">1.0</text>
<text x="207.50" y="635.77" font-size="9.2" text-anchor="middle" fill="#2a2a2a" stroke="#2a2a2a" stroke-width="0.22">0.6</text>
<text x="239.45" y="635.77" font-size="9.2" text-anchor="middle" fill="#2a2a2a" stroke="#2a2a2a" stroke-width="0.22">0.7</text>
<text x="271.40" y="635.77" font-size="9.2" text-anchor="middle" fill="#2a2a2a" stroke="#2a2a2a" stroke-width="0.22">0.8</text>
<text x="303.35" y="635.77" font-size="9.2" text-anchor="middle" fill="#2a2a2a" stroke="#2a2a2a" stroke-width="0.22">0.9</text>
<text x="335.30" y="635.77" font-size="9.2" text-anchor="middle" fill="#2a2a2a" stroke="#2a2a2a" stroke-width="0.22">1.0</text>
<text x="278.20" y="485.03" font-size="9.65" text-anchor="middle" fill="#231f20" stroke="#231f20" stroke-width="0.22">ONT dRNA004 HG004/HG005 SNP</text>
<text transform="translate(180.40,559.00) rotate(-90)" x="0" y="3.04" font-size="8.8" text-anchor="middle" fill="#231f20" stroke="#231f20" stroke-width="0.22">Recall</text>
<circle cx="229.00" cy="529.30" r="2.35" fill="#d9412f" stroke="#2a2a2a" stroke-width="0.55"/>
<rect x="237.75" y="525.15" width="4.70" height="4.70" fill="#d9412f" stroke="#2a2a2a" stroke-width="0.55"/>
<rect x="313.65" y="509.45" width="4.70" height="4.70" fill="#f39a3b" stroke="#2a2a2a" stroke-width="0.55"/>
<circle cx="315.80" cy="513.20" r="2.35" fill="#f39a3b" stroke="#2a2a2a" stroke-width="0.55"/>
<circle cx="313.40" cy="569.90" r="2.35" fill="#6dbd45" stroke="#2a2a2a" stroke-width="0.55"/>
<rect x="312.85" y="567.55" width="4.70" height="4.70" fill="#6dbd45" stroke="#2a2a2a" stroke-width="0.55"/>
<rect x="316.35" y="601.65" width="4.70" height="4.70" fill="#2b7bb9" stroke="#2a2a2a" stroke-width="0.55"/>
<circle cx="317.20" cy="613.60" r="2.35" fill="#2b7bb9" stroke="#2a2a2a" stroke-width="0.55"/>
<text x="109.00" y="648.34" font-size="8.8" text-anchor="middle" fill="#231f20" stroke="#231f20" stroke-width="0.22">Precision</text>
<text x="274.20" y="647.04" font-size="8.8" text-anchor="middle" fill="#231f20" stroke="#231f20" stroke-width="0.22">Precision</text>
<circle cx="28.20" cy="656.10" r="2.6" fill="#f39a3b" stroke="#2a2a2a" stroke-width="0.55"/>
<text x="39.70" y="659.22" font-size="9.05" text-anchor="start" fill="#2a2a2a" stroke="#2a2a2a" stroke-width="0.22">Clair3-RNA (HG004)</text>
<rect x="25.60" y="666.17" width="5.20" height="5.20" fill="#f39a3b" stroke="#2a2a2a" stroke-width="0.55"/>
<text x="39.70" y="671.89" font-size="9.05" text-anchor="start" fill="#2a2a2a" stroke="#2a2a2a" stroke-width="0.22">Clair3-RNA (HG005)</text>
<circle cx="28.20" cy="681.44" r="2.6" fill="#f7e61d" stroke="#2a2a2a" stroke-width="0.55"/>
<text x="39.70" y="684.56" font-size="9.05" text-anchor="start" fill="#2a2a2a" stroke="#2a2a2a" stroke-width="0.22">CTAT-Mutations (HG004)</text>
<rect x="25.60" y="691.51" width="5.20" height="5.20" fill="#f7e61d" stroke="#2a2a2a" stroke-width="0.55"/>
<text x="39.70" y="697.23" font-size="9.05" text-anchor="start" fill="#2a2a2a" stroke="#2a2a2a" stroke-width="0.22">CTAT-Mutations (HG005)</text>
<circle cx="149.70" cy="656.10" r="2.6" fill="#d9412f" stroke="#2a2a2a" stroke-width="0.55"/>
<text x="160.30" y="659.22" font-size="9.05" text-anchor="start" fill="#2a2a2a" stroke="#2a2a2a" stroke-width="0.22">Clair3 (HG004)</text>
<rect x="147.10" y="666.17" width="5.20" height="5.20" fill="#d9412f" stroke="#2a2a2a" stroke-width="0.55"/>
<text x="160.30" y="671.89" font-size="9.05" text-anchor="start" fill="#2a2a2a" stroke="#2a2a2a" stroke-width="0.22">Clair3 (HG005)</text>
<circle cx="149.70" cy="681.44" r="2.6" fill="#2b7bb9" stroke="#2a2a2a" stroke-width="0.55"/>
<text x="160.30" y="684.56" font-size="9.05" text-anchor="start" fill="#2a2a2a" stroke="#2a2a2a" stroke-width="0.22">LongcallR (HG004)</text>
<rect x="147.10" y="691.51" width="5.20" height="5.20" fill="#2b7bb9" stroke="#2a2a2a" stroke-width="0.55"/>
<text x="160.30" y="697.23" font-size="9.05" text-anchor="start" fill="#2a2a2a" stroke="#2a2a2a" stroke-width="0.22">LongcallR (HG005)</text>
<circle cx="249.80" cy="656.10" r="2.6" fill="#7c52ad" stroke="#2a2a2a" stroke-width="0.55"/>
<text x="260.90" y="659.22" font-size="9.05" text-anchor="start" fill="#2a2a2a" stroke="#2a2a2a" stroke-width="0.22">DeepVariant  (HG004)</text>
<rect x="247.20" y="666.17" width="5.20" height="5.20" fill="#7c52ad" stroke="#2a2a2a" stroke-width="0.55"/>
<text x="260.90" y="671.89" font-size="9.05" text-anchor="start" fill="#2a2a2a" stroke="#2a2a2a" stroke-width="0.22">DeepVariant  (HG005)</text>
<circle cx="249.80" cy="681.44" r="2.6" fill="#6dbd45" stroke="#2a2a2a" stroke-width="0.55"/>
<text x="260.90" y="684.56" font-size="9.05" text-anchor="start" fill="#2a2a2a" stroke="#2a2a2a" stroke-width="0.22">LongcallR-nn (HG004)</text>
<rect x="247.20" y="691.51" width="5.20" height="5.20" fill="#6dbd45" stroke="#2a2a2a" stroke-width="0.55"/>
<text x="260.90" y="697.23" font-size="9.05" text-anchor="start" fill="#2a2a2a" stroke="#2a2a2a" stroke-width="0.22">LongcallR-nn (HG005)</text>
<text x="374.90" y="297.59" font-size="13.3" text-anchor="start" fill="#000" font-weight="bold" stroke="#000" stroke-width="0.22">c</text>
<text x="544.00" y="292.21" font-size="9.6" text-anchor="middle" fill="#231f20" stroke="#231f20" stroke-width="0.22">Clair3-RNA's SNP performance on PacBio datasets</text>
<text x="411.90" y="303.54" font-size="8.8" text-anchor="end" fill="#2a2a2a" stroke="#2a2a2a" stroke-width="0.22">1.00</text>
<text x="411.90" y="324.64" font-size="8.8" text-anchor="end" fill="#2a2a2a" stroke="#2a2a2a" stroke-width="0.22">0.98</text>
<text x="411.90" y="345.74" font-size="8.8" text-anchor="end" fill="#2a2a2a" stroke="#2a2a2a" stroke-width="0.22">0.96</text>
<text x="411.90" y="366.84" font-size="8.8" text-anchor="end" fill="#2a2a2a" stroke="#2a2a2a" stroke-width="0.22">0.94</text>
<text x="411.90" y="387.94" font-size="8.8" text-anchor="end" fill="#2a2a2a" stroke="#2a2a2a" stroke-width="0.22">0.92</text>
<text x="411.90" y="409.04" font-size="8.8" text-anchor="end" fill="#2a2a2a" stroke="#2a2a2a" stroke-width="0.22">0.90</text>
<text x="411.90" y="430.14" font-size="8.8" text-anchor="end" fill="#2a2a2a" stroke="#2a2a2a" stroke-width="0.22">0.88</text>
<text x="411.90" y="451.24" font-size="8.8" text-anchor="end" fill="#2a2a2a" stroke="#2a2a2a" stroke-width="0.22">0.86</text>
<rect x="425.10" y="340.59" width="10.35" height="117.71" fill="#9ecae1" stroke="none" stroke-width="0"/>
<text transform="translate(430.25,455.20) rotate(-90)" x="0" y="2.56" font-size="7.1" text-anchor="start" fill="#ffffff" fill-opacity="0.72">Precision</text>
<text transform="translate(430.25,342.49) rotate(-90)" x="0" y="2.56" font-size="7.1" text-anchor="end" fill="#ffffff" fill-opacity="0.85">0.962</text>
<rect x="435.40" y="366.96" width="10.35" height="91.34" fill="#6baed6" stroke="none" stroke-width="0"/>
<text transform="translate(440.55,455.20) rotate(-90)" x="0" y="2.56" font-size="7.1" text-anchor="start" fill="#ffffff" fill-opacity="0.72">Recall</text>
<text transform="translate(440.55,368.86) rotate(-90)" x="0" y="2.56" font-size="7.1" text-anchor="end" fill="#ffffff" fill-opacity="0.85">0.937</text>
<rect x="445.70" y="354.31" width="10.35" height="103.99" fill="#3182bd" stroke="none" stroke-width="0"/>
<text transform="translate(450.85,455.20) rotate(-90)" x="0" y="2.56" font-size="7.1" text-anchor="start" fill="#ffffff" fill-opacity="0.72">F1-score</text>
<text transform="translate(450.85,356.21) rotate(-90)" x="0" y="2.56" font-size="7.1" text-anchor="end" fill="#ffffff" fill-opacity="0.85">0.949</text>
<text x="440.55" y="466.77" font-size="8.9" text-anchor="middle" fill="#2a2a2a" stroke="#2a2a2a" stroke-width="0.22">PacBio</text>
<text x="440.55" y="476.37" font-size="8.9" text-anchor="middle" fill="#2a2a2a" stroke="#2a2a2a" stroke-width="0.22">Iso-Seq</text>
<text x="440.55" y="485.97" font-size="8.9" text-anchor="middle" fill="#2a2a2a" stroke="#2a2a2a" stroke-width="0.22">(BCM)</text>
<text x="440.55" y="495.57" font-size="8.9" text-anchor="middle" fill="#2a2a2a" stroke="#2a2a2a" stroke-width="0.22">HG004</text>
<rect x="466.55" y="337.43" width="10.35" height="120.88" fill="#9ecae1" stroke="none" stroke-width="0"/>
<text transform="translate(471.70,455.20) rotate(-90)" x="0" y="2.56" font-size="7.1" text-anchor="start" fill="#ffffff" fill-opacity="0.72">Precision</text>
<text transform="translate(471.70,339.32) rotate(-90)" x="0" y="2.56" font-size="7.1" text-anchor="end" fill="#ffffff" fill-opacity="0.85">0.965</text>
<rect x="476.85" y="358.53" width="10.35" height="99.77" fill="#6baed6" stroke="none" stroke-width="0"/>
<text transform="translate(482.00,455.20) rotate(-90)" x="0" y="2.56" font-size="7.1" text-anchor="start" fill="#ffffff" fill-opacity="0.72">Recall</text>
<text transform="translate(482.00,360.43) rotate(-90)" x="0" y="2.56" font-size="7.1" text-anchor="end" fill="#ffffff" fill-opacity="0.85">0.945</text>
<rect x="487.15" y="347.98" width="10.35" height="110.32" fill="#3182bd" stroke="none" stroke-width="0"/>
<text transform="translate(492.30,455.20) rotate(-90)" x="0" y="2.56" font-size="7.1" text-anchor="start" fill="#ffffff" fill-opacity="0.72">F1-score</text>
<text transform="translate(492.30,349.88) rotate(-90)" x="0" y="2.56" font-size="7.1" text-anchor="end" fill="#ffffff" fill-opacity="0.85">0.955</text>
<text x="482.00" y="466.77" font-size="8.9" text-anchor="middle" fill="#2a2a2a" stroke="#2a2a2a" stroke-width="0.22">PacBio</text>
<text x="482.00" y="476.37" font-size="8.9" text-anchor="middle" fill="#2a2a2a" stroke="#2a2a2a" stroke-width="0.22">Iso-Seq</text>
<text x="482.00" y="485.97" font-size="8.9" text-anchor="middle" fill="#2a2a2a" stroke="#2a2a2a" stroke-width="0.22">(BCM)</text>
<text x="482.00" y="495.57" font-size="8.9" text-anchor="middle" fill="#2a2a2a" stroke="#2a2a2a" stroke-width="0.22">HG005</text>
<rect x="508.00" y="362.75" width="10.35" height="95.55" fill="#fdae6b" stroke="none" stroke-width="0"/>
<text transform="translate(513.15,455.20) rotate(-90)" x="0" y="2.56" font-size="7.1" text-anchor="start" fill="#ffffff" fill-opacity="0.72">Precision</text>
<text transform="translate(513.15,364.65) rotate(-90)" x="0" y="2.56" font-size="7.1" text-anchor="end" fill="#ffffff" fill-opacity="0.85">0.941</text>
<rect x="518.30" y="409.16" width="10.35" height="49.14" fill="#fd8d3c" stroke="none" stroke-width="0"/>
<text transform="translate(523.45,455.20) rotate(-90)" x="0" y="2.56" font-size="7.1" text-anchor="start" fill="#ffffff" fill-opacity="0.72">Recall</text>
<text transform="translate(523.45,411.06) rotate(-90)" x="0" y="2.56" font-size="7.1" text-anchor="end" fill="#ffffff" fill-opacity="0.85">0.897</text>
<rect x="528.60" y="387.01" width="10.35" height="71.29" fill="#e6550d" stroke="none" stroke-width="0"/>
<text transform="translate(533.75,455.20) rotate(-90)" x="0" y="2.56" font-size="7.1" text-anchor="start" fill="#ffffff" fill-opacity="0.72">F1-score</text>
<text transform="translate(533.75,388.91) rotate(-90)" x="0" y="2.56" font-size="7.1" text-anchor="end" fill="#ffffff" fill-opacity="0.85">0.918</text>
<text x="523.45" y="466.77" font-size="8.9" text-anchor="middle" fill="#2a2a2a" stroke="#2a2a2a" stroke-width="0.22">PacBio</text>
<text x="523.45" y="476.37" font-size="8.9" text-anchor="middle" fill="#2a2a2a" stroke="#2a2a2a" stroke-width="0.22">Iso-Seq</text>
<text x="523.45" y="485.97" font-size="8.9" text-anchor="middle" fill="#2a2a2a" stroke="#2a2a2a" stroke-width="0.22">(Google)</text>
<text x="523.45" y="495.57" font-size="8.9" text-anchor="middle" fill="#2a2a2a" stroke="#2a2a2a" stroke-width="0.22">HG004</text>
<rect x="549.45" y="360.64" width="10.35" height="97.66" fill="#fdae6b" stroke="none" stroke-width="0"/>
<text transform="translate(554.60,455.20) rotate(-90)" x="0" y="2.56" font-size="7.1" text-anchor="start" fill="#ffffff" fill-opacity="0.72">Precision</text>
<text transform="translate(554.60,362.54) rotate(-90)" x="0" y="2.56" font-size="7.1" text-anchor="end" fill="#ffffff" fill-opacity="0.85">0.943</text>
<rect x="559.75" y="404.94" width="10.35" height="53.36" fill="#fd8d3c" stroke="none" stroke-width="0"/>
<text transform="translate(564.90,455.20) rotate(-90)" x="0" y="2.56" font-size="7.1" text-anchor="start" fill="#ffffff" fill-opacity="0.72">Recall</text>
<text transform="translate(564.90,406.84) rotate(-90)" x="0" y="2.56" font-size="7.1" text-anchor="end" fill="#ffffff" fill-opacity="0.85">0.901</text>
<rect x="570.05" y="383.84" width="10.35" height="74.46" fill="#e6550d" stroke="none" stroke-width="0"/>
<text transform="translate(575.20,455.20) rotate(-90)" x="0" y="2.56" font-size="7.1" text-anchor="start" fill="#ffffff" fill-opacity="0.72">F1-score</text>
<text transform="translate(575.20,385.74) rotate(-90)" x="0" y="2.56" font-size="7.1" text-anchor="end" fill="#ffffff" fill-opacity="0.85">0.921</text>
<text x="564.90" y="466.77" font-size="8.9" text-anchor="middle" fill="#2a2a2a" stroke="#2a2a2a" stroke-width="0.22">PacBio</text>
<text x="564.90" y="476.37" font-size="8.9" text-anchor="middle" fill="#2a2a2a" stroke="#2a2a2a" stroke-width="0.22">Iso-Seq</text>
<text x="564.90" y="485.97" font-size="8.9" text-anchor="middle" fill="#2a2a2a" stroke="#2a2a2a" stroke-width="0.22">(Google)</text>
<text x="564.90" y="495.57" font-size="8.9" text-anchor="middle" fill="#2a2a2a" stroke="#2a2a2a" stroke-width="0.22">HG005</text>
<rect x="590.90" y="351.14" width="10.35" height="107.16" fill="#a1d99b" stroke="none" stroke-width="0"/>
<text transform="translate(596.05,455.20) rotate(-90)" x="0" y="2.56" font-size="7.1" text-anchor="start" fill="#ffffff" fill-opacity="0.72">Precision</text>
<text transform="translate(596.05,353.04) rotate(-90)" x="0" y="2.56" font-size="7.1" text-anchor="end" fill="#ffffff" fill-opacity="0.85">0.952</text>
<rect x="601.20" y="389.12" width="10.35" height="69.18" fill="#74c476" stroke="none" stroke-width="0"/>
<text transform="translate(606.35,455.20) rotate(-90)" x="0" y="2.56" font-size="7.1" text-anchor="start" fill="#ffffff" fill-opacity="0.72">Recall</text>
<text transform="translate(606.35,391.02) rotate(-90)" x="0" y="2.56" font-size="7.1" text-anchor="end" fill="#ffffff" fill-opacity="0.85">0.916</text>
<rect x="611.50" y="370.13" width="10.35" height="88.17" fill="#31a354" stroke="none" stroke-width="0"/>
<text transform="translate(616.65,455.20) rotate(-90)" x="0" y="2.56" font-size="7.1" text-anchor="start" fill="#ffffff" fill-opacity="0.72">F1-score</text>
<text transform="translate(616.65,372.03) rotate(-90)" x="0" y="2.56" font-size="7.1" text-anchor="end" fill="#ffffff" fill-opacity="0.85">0.934</text>
<text x="606.35" y="466.77" font-size="8.9" text-anchor="middle" fill="#2a2a2a" stroke="#2a2a2a" stroke-width="0.22">PacBio</text>
<text x="606.35" y="476.37" font-size="8.9" text-anchor="middle" fill="#2a2a2a" stroke="#2a2a2a" stroke-width="0.22">MAS-Seq</text>
<text x="606.35" y="485.97" font-size="8.9" text-anchor="middle" fill="#2a2a2a" stroke="#2a2a2a" stroke-width="0.22">HG004</text>
<rect x="413.40" y="299.20" width="262.00" height="159.10" fill="none" stroke="#7c7c7c" stroke-width="0.9"/>
<text transform="translate(385.90,378.10) rotate(-90)" x="0" y="3.23" font-size="9.35" text-anchor="middle" fill="#231f20" stroke="#231f20" stroke-width="0.22">Values</text>
<text x="541.50" y="511.11" font-size="9.6" text-anchor="middle" fill="#231f20" stroke="#231f20" stroke-width="0.22">Clair3-RNA's SNP performance on ONT datasets</text>
<text x="409.40" y="522.37" font-size="9.2" text-anchor="end" fill="#2a2a2a" stroke="#2a2a2a" stroke-width="0.22">1.0</text>
<text x="409.40" y="555.27" font-size="9.2" text-anchor="end" fill="#2a2a2a" stroke="#2a2a2a" stroke-width="0.22">0.9</text>
<text x="409.40" y="588.17" font-size="9.2" text-anchor="end" fill="#2a2a2a" stroke="#2a2a2a" stroke-width="0.22">0.8</text>
<text x="409.40" y="621.07" font-size="9.2" text-anchor="end" fill="#2a2a2a" stroke="#2a2a2a" stroke-width="0.22">0.7</text>
<text x="409.40" y="653.97" font-size="9.2" text-anchor="end" fill="#2a2a2a" stroke="#2a2a2a" stroke-width="0.22">0.6</text>
<rect x="422.60" y="630.73" width="10.30" height="47.17" fill="#9ecae1" stroke="none" stroke-width="0"/>
<text transform="translate(427.73,673.10) rotate(-90)" x="0" y="2.56" font-size="7.1" text-anchor="start" fill="#ffffff" fill-opacity="0.72">Precision</text>
<text transform="translate(427.73,629.23) rotate(-90)" x="0" y="2.56" font-size="7.1" text-anchor="start" fill="#222222" stroke="#222222" stroke-width="0.12">0.661</text>
<rect x="432.85" y="613.62" width="10.30" height="64.28" fill="#6baed6" stroke="none" stroke-width="0"/>
<text transform="translate(437.98,673.10) rotate(-90)" x="0" y="2.56" font-size="7.1" text-anchor="start" fill="#ffffff" fill-opacity="0.72">Recall</text>
<text transform="translate(437.98,615.52) rotate(-90)" x="0" y="2.56" font-size="7.1" text-anchor="end" fill="#ffffff" fill-opacity="0.85">0.713</text>
<rect x="443.10" y="622.51" width="10.30" height="55.39" fill="#3182bd" stroke="none" stroke-width="0"/>
<text transform="translate(448.23,673.10) rotate(-90)" x="0" y="2.56" font-size="7.1" text-anchor="start" fill="#ffffff" fill-opacity="0.72">F1-score</text>
<text transform="translate(448.23,621.01) rotate(-90)" x="0" y="2.56" font-size="7.1" text-anchor="start" fill="#222222" stroke="#222222" stroke-width="0.12">0.686</text>
<text x="437.98" y="685.67" font-size="8.9" text-anchor="middle" fill="#2a2a2a" stroke="#2a2a2a" stroke-width="0.22">ONT</text>
<text x="437.98" y="695.07" font-size="8.9" text-anchor="middle" fill="#2a2a2a" stroke="#2a2a2a" stroke-width="0.22">dRNA002</text>
<text x="437.98" y="704.27" font-size="8.9" text-anchor="middle" fill="#2a2a2a" stroke="#2a2a2a" stroke-width="0.22">HG004</text>
<rect x="464.00" y="629.09" width="10.30" height="48.81" fill="#9ecae1" stroke="none" stroke-width="0"/>
<text transform="translate(469.12,673.10) rotate(-90)" x="0" y="2.56" font-size="7.1" text-anchor="start" fill="#ffffff" fill-opacity="0.72">Precision</text>
<text transform="translate(469.12,627.59) rotate(-90)" x="0" y="2.56" font-size="7.1" text-anchor="start" fill="#222222" stroke="#222222" stroke-width="0.12">0.666</text>
<rect x="474.25" y="605.40" width="10.30" height="72.50" fill="#6baed6" stroke="none" stroke-width="0"/>
<text transform="translate(479.38,673.10) rotate(-90)" x="0" y="2.56" font-size="7.1" text-anchor="start" fill="#ffffff" fill-opacity="0.72">Recall</text>
<text transform="translate(479.38,607.30) rotate(-90)" x="0" y="2.56" font-size="7.1" text-anchor="end" fill="#ffffff" fill-opacity="0.85">0.738</text>
<rect x="484.50" y="617.90" width="10.30" height="60.00" fill="#3182bd" stroke="none" stroke-width="0"/>
<text transform="translate(489.62,673.10) rotate(-90)" x="0" y="2.56" font-size="7.1" text-anchor="start" fill="#ffffff" fill-opacity="0.72">F1-score</text>
<text transform="translate(489.62,616.40) rotate(-90)" x="0" y="2.56" font-size="7.1" text-anchor="start" fill="#222222" stroke="#222222" stroke-width="0.12">0.700</text>
<text x="479.38" y="685.67" font-size="8.9" text-anchor="middle" fill="#2a2a2a" stroke="#2a2a2a" stroke-width="0.22">ONT</text>
<text x="479.38" y="695.07" font-size="8.9" text-anchor="middle" fill="#2a2a2a" stroke="#2a2a2a" stroke-width="0.22">dRNA002</text>
<text x="479.38" y="704.27" font-size="8.9" text-anchor="middle" fill="#2a2a2a" stroke="#2a2a2a" stroke-width="0.22">HG005</text>
<rect x="505.40" y="619.55" width="10.30" height="58.35" fill="#fdae6b" stroke="none" stroke-width="0"/>
<text transform="translate(510.53,673.10) rotate(-90)" x="0" y="2.56" font-size="7.1" text-anchor="start" fill="#ffffff" fill-opacity="0.72">Precision</text>
<text transform="translate(510.53,618.05) rotate(-90)" x="0" y="2.56" font-size="7.1" text-anchor="start" fill="#222222" stroke="#222222" stroke-width="0.12">0.695</text>
<rect x="515.65" y="625.47" width="10.30" height="52.43" fill="#fd8d3c" stroke="none" stroke-width="0"/>
<text transform="translate(520.78,673.10) rotate(-90)" x="0" y="2.56" font-size="7.1" text-anchor="start" fill="#ffffff" fill-opacity="0.72">Recall</text>
<text transform="translate(520.78,623.97) rotate(-90)" x="0" y="2.56" font-size="7.1" text-anchor="start" fill="#222222" stroke="#222222" stroke-width="0.12">0.677</text>
<rect x="525.90" y="622.51" width="10.30" height="55.39" fill="#e6550d" stroke="none" stroke-width="0"/>
<text transform="translate(531.03,673.10) rotate(-90)" x="0" y="2.56" font-size="7.1" text-anchor="start" fill="#ffffff" fill-opacity="0.72">F1-score</text>
<text transform="translate(531.03,621.01) rotate(-90)" x="0" y="2.56" font-size="7.1" text-anchor="start" fill="#222222" stroke="#222222" stroke-width="0.12">0.686</text>
<text x="520.78" y="685.67" font-size="8.9" text-anchor="middle" fill="#2a2a2a" stroke="#2a2a2a" stroke-width="0.22">ONT</text>
<text x="520.78" y="695.07" font-size="8.9" text-anchor="middle" fill="#2a2a2a" stroke="#2a2a2a" stroke-width="0.22">cDNA</text>
<text x="520.78" y="704.27" font-size="8.9" text-anchor="middle" fill="#2a2a2a" stroke="#2a2a2a" stroke-width="0.22">HG004</text>
<rect x="546.80" y="561.31" width="10.30" height="116.59" fill="#fdae6b" stroke="none" stroke-width="0"/>
<text transform="translate(551.92,673.10) rotate(-90)" x="0" y="2.56" font-size="7.1" text-anchor="start" fill="#ffffff" fill-opacity="0.72">Precision</text>
<text transform="translate(551.92,563.21) rotate(-90)" x="0" y="2.56" font-size="7.1" text-anchor="end" fill="#ffffff" fill-opacity="0.85">0.872</text>
<rect x="557.05" y="606.06" width="10.30" height="71.84" fill="#fd8d3c" stroke="none" stroke-width="0"/>
<text transform="translate(562.17,673.10) rotate(-90)" x="0" y="2.56" font-size="7.1" text-anchor="start" fill="#ffffff" fill-opacity="0.72">Recall</text>
<text transform="translate(562.17,607.96) rotate(-90)" x="0" y="2.56" font-size="7.1" text-anchor="end" fill="#ffffff" fill-opacity="0.85">0.736</text>
<rect x="567.30" y="585.66" width="10.30" height="92.24" fill="#e6550d" stroke="none" stroke-width="0"/>
<text transform="translate(572.42,673.10) rotate(-90)" x="0" y="2.56" font-size="7.1" text-anchor="start" fill="#ffffff" fill-opacity="0.72">F1-score</text>
<text transform="translate(572.42,587.56) rotate(-90)" x="0" y="2.56" font-size="7.1" text-anchor="end" fill="#ffffff" fill-opacity="0.85">0.798</text>
<text x="562.17" y="685.67" font-size="8.9" text-anchor="middle" fill="#2a2a2a" stroke="#2a2a2a" stroke-width="0.22">ONT</text>
<text x="562.17" y="695.07" font-size="8.9" text-anchor="middle" fill="#2a2a2a" stroke="#2a2a2a" stroke-width="0.22">cDNA</text>
<text x="562.17" y="704.27" font-size="8.9" text-anchor="middle" fill="#2a2a2a" stroke="#2a2a2a" stroke-width="0.22">HG005</text>
<rect x="588.20" y="542.89" width="10.30" height="135.01" fill="#a1d99b" stroke="none" stroke-width="0"/>
<text transform="translate(593.33,673.10) rotate(-90)" x="0" y="2.56" font-size="7.1" text-anchor="start" fill="#ffffff" fill-opacity="0.72">Precision</text>
<text transform="translate(593.33,544.79) rotate(-90)" x="0" y="2.56" font-size="7.1" text-anchor="end" fill="#ffffff" fill-opacity="0.85">0.928</text>
<rect x="598.45" y="554.40" width="10.30" height="123.50" fill="#74c476" stroke="none" stroke-width="0"/>
<text transform="translate(603.58,673.10) rotate(-90)" x="0" y="2.56" font-size="7.1" text-anchor="start" fill="#ffffff" fill-opacity="0.72">Recall</text>
<text transform="translate(603.58,556.30) rotate(-90)" x="0" y="2.56" font-size="7.1" text-anchor="end" fill="#ffffff" fill-opacity="0.85">0.893</text>
<rect x="608.70" y="548.81" width="10.30" height="129.09" fill="#31a354" stroke="none" stroke-width="0"/>
<text transform="translate(613.83,673.10) rotate(-90)" x="0" y="2.56" font-size="7.1" text-anchor="start" fill="#ffffff" fill-opacity="0.72">F1-score</text>
<text transform="translate(613.83,550.71) rotate(-90)" x="0" y="2.56" font-size="7.1" text-anchor="end" fill="#ffffff" fill-opacity="0.85">0.910</text>
<text x="603.58" y="685.67" font-size="8.9" text-anchor="middle" fill="#2a2a2a" stroke="#2a2a2a" stroke-width="0.22">ONT</text>
<text x="603.58" y="695.07" font-size="8.9" text-anchor="middle" fill="#2a2a2a" stroke="#2a2a2a" stroke-width="0.22">dRNA004</text>
<text x="603.58" y="704.27" font-size="8.9" text-anchor="middle" fill="#2a2a2a" stroke="#2a2a2a" stroke-width="0.22">HG004</text>
<rect x="629.60" y="541.57" width="10.30" height="136.33" fill="#a1d99b" stroke="none" stroke-width="0"/>
<text transform="translate(634.73,673.10) rotate(-90)" x="0" y="2.56" font-size="7.1" text-anchor="start" fill="#ffffff" fill-opacity="0.72">Precision</text>
<text transform="translate(634.73,543.47) rotate(-90)" x="0" y="2.56" font-size="7.1" text-anchor="end" fill="#ffffff" fill-opacity="0.85">0.932</text>
<rect x="639.85" y="551.11" width="10.30" height="126.79" fill="#74c476" stroke="none" stroke-width="0"/>
<text transform="translate(644.98,673.10) rotate(-90)" x="0" y="2.56" font-size="7.1" text-anchor="start" fill="#ffffff" fill-opacity="0.72">Recall</text>
<text transform="translate(644.98,553.01) rotate(-90)" x="0" y="2.56" font-size="7.1" text-anchor="end" fill="#ffffff" fill-opacity="0.85">0.903</text>
<rect x="650.10" y="546.51" width="10.30" height="131.39" fill="#31a354" stroke="none" stroke-width="0"/>
<text transform="translate(655.23,673.10) rotate(-90)" x="0" y="2.56" font-size="7.1" text-anchor="start" fill="#ffffff" fill-opacity="0.72">F1-score</text>
<text transform="translate(655.23,548.41) rotate(-90)" x="0" y="2.56" font-size="7.1" text-anchor="end" fill="#ffffff" fill-opacity="0.85">0.917</text>
<text x="644.98" y="685.67" font-size="8.9" text-anchor="middle" fill="#2a2a2a" stroke="#2a2a2a" stroke-width="0.22">ONT</text>
<text x="644.98" y="695.07" font-size="8.9" text-anchor="middle" fill="#2a2a2a" stroke="#2a2a2a" stroke-width="0.22">dRNA004</text>
<text x="644.98" y="704.27" font-size="8.9" text-anchor="middle" fill="#2a2a2a" stroke="#2a2a2a" stroke-width="0.22">HG005</text>
<rect x="410.90" y="518.20" width="261.90" height="159.70" fill="none" stroke="#7c7c7c" stroke-width="0.9"/>
<text transform="translate(388.70,597.90) rotate(-90)" x="0" y="3.23" font-size="9.35" text-anchor="middle" fill="#231f20" stroke="#231f20" stroke-width="0.22">Values</text>
<text x="-0.50" y="721.29" font-size="13.3" text-anchor="start" fill="#000" font-weight="bold" stroke="#000" stroke-width="0.22">d</text>
<text x="108.20" y="713.37" font-size="8.9" text-anchor="middle" fill="#231f20" stroke="#231f20" stroke-width="0.22">ONT dRNA004</text>
<text x="108.20" y="721.97" font-size="8.9" text-anchor="middle" fill="#231f20" stroke="#231f20" stroke-width="0.22">(HG004 DP≥4,AD≥2)</text>
<text x="21.20" y="830.86" font-size="7.7" text-anchor="end" fill="#333" stroke="#333" stroke-width="0.12">0.0</text>
<text x="21.20" y="810.46" font-size="7.7" text-anchor="end" fill="#333" stroke="#333" stroke-width="0.12">0.2</text>
<text x="21.20" y="790.06" font-size="7.7" text-anchor="end" fill="#333" stroke="#333" stroke-width="0.12">0.4</text>
<text x="21.20" y="769.66" font-size="7.7" text-anchor="end" fill="#333" stroke="#333" stroke-width="0.12">0.6</text>
<text x="21.20" y="749.26" font-size="7.7" text-anchor="end" fill="#333" stroke="#333" stroke-width="0.12">0.8</text>
<text x="21.20" y="728.86" font-size="7.7" text-anchor="end" fill="#333" stroke="#333" stroke-width="0.12">1.0</text>
<text x="25.40" y="837.96" font-size="7.7" text-anchor="middle" fill="#333" stroke="#333" stroke-width="0.12">0.0</text>
<text x="58.30" y="837.96" font-size="7.7" text-anchor="middle" fill="#333" stroke="#333" stroke-width="0.12">0.2</text>
<text x="91.20" y="837.96" font-size="7.7" text-anchor="middle" fill="#333" stroke="#333" stroke-width="0.12">0.4</text>
<text x="124.10" y="837.96" font-size="7.7" text-anchor="middle" fill="#333" stroke="#333" stroke-width="0.12">0.6</text>
<text x="157.00" y="837.96" font-size="7.7" text-anchor="middle" fill="#333" stroke="#333" stroke-width="0.12">0.8</text>
<text x="189.90" y="837.96" font-size="7.7" text-anchor="middle" fill="#333" stroke="#333" stroke-width="0.12">1.0</text>
<path d="M25.40,731.30 C26.22,730.93 27.62,729.52 30.33,729.06 C33.05,728.60 35.19,728.31 41.69,728.55 C48.18,728.78 61.48,729.60 69.32,730.48 C77.16,731.37 85.50,733.29 88.73,733.85" stroke="#78b86b" stroke-width="1.25" fill="none" stroke-linecap="butt" stroke-linejoin="miter" stroke-dasharray="4.4,2.7"/>
<path d="M88.73,733.85 L89.56,751.29" stroke="#78b86b" stroke-width="1.25" fill="none" stroke-linecap="butt" stroke-linejoin="miter" stroke-dasharray="4.4,2.7"/>
<circle cx="88.73" cy="733.85" r="1.95" fill="#78b86b" stroke="#2a2a2a" stroke-width="0.6"/>
<path d="M25.40,734.67 C26.25,734.02 25.48,731.39 30.50,730.79 C35.52,730.20 46.73,730.59 55.50,731.10 C64.28,731.61 73.90,732.34 83.14,733.85 C92.38,735.36 102.61,737.73 110.94,740.17 C119.27,742.62 126.81,745.99 133.15,748.54 C139.48,751.09 144.77,753.16 148.94,755.47 C153.11,757.79 155.46,759.18 158.15,762.41 C160.84,765.64 163.91,772.78 165.06,774.85" stroke="#6c7880" stroke-width="1.4" fill="none" stroke-linecap="butt" stroke-linejoin="miter" stroke-dasharray="5.2,2.2,1,2.2"/>
<circle cx="148.94" cy="755.47" r="1.95" fill="#6c7880" stroke="#2a2a2a" stroke-width="0.6"/>
<path d="M25.40,731.91 C26.25,731.45 27.76,729.70 30.50,729.16 C33.24,728.61 33.08,728.73 41.85,728.65 C50.62,728.56 69.32,728.33 83.14,728.65 C96.96,728.97 115.13,729.91 124.76,730.59 C134.38,731.27 138.19,732.37 140.88,732.73" stroke="#f6b42c" stroke-width="1.6" fill="none" stroke-linecap="butt" stroke-linejoin="miter" stroke-dasharray="5,3"/>
<circle cx="140.88" cy="732.73" r="1.95" fill="#f6b42c" stroke="#2a2a2a" stroke-width="0.6"/>
<path d="M25.40,726.20 C35.02,726.32 66.58,726.51 83.14,726.91 C99.70,727.32 113.19,727.95 124.76,728.65 C136.33,729.35 144.22,730.09 152.56,731.10 C160.89,732.10 170.60,733.70 174.77,734.67 C178.93,735.64 177.10,736.54 177.56,736.91" stroke="#4b84cf" stroke-width="1.3" fill="none" stroke-linecap="butt" stroke-linejoin="miter"/>
<circle cx="174.77" cy="734.67" r="1.95" fill="#4b84cf" stroke="#2a2a2a" stroke-width="0.6"/>
<line x1="25.40" y1="725.20" x2="25.40" y2="828.20" stroke="#262626" stroke-width="1.25" stroke-linecap="butt"/>
<line x1="25.40" y1="828.20" x2="189.90" y2="828.20" stroke="#262626" stroke-width="1.25" stroke-linecap="butt"/>
<text x="33.20" y="793.95" font-size="6.8" text-anchor="start" fill="#444" stroke="#444" stroke-width="0.12">AUPRC</text>
<line x1="32.90" y1="802.60" x2="37.70" y2="802.60" stroke="#78b86b" stroke-width="1.5" stroke-linecap="butt"/>
<line x1="40.50" y1="802.60" x2="41.50" y2="802.60" stroke="#78b86b" stroke-width="1.5" stroke-linecap="butt"/>
<text x="44.70" y="804.70" font-size="6.1" text-anchor="start" fill="#3a3a3a" stroke="#3a3a3a" stroke-width="0.06">0.2394</text>
<line x1="32.90" y1="809.20" x2="39.40" y2="809.20" stroke="#f6b42c" stroke-width="1.5" stroke-linecap="butt"/>
<text x="44.70" y="811.30" font-size="6.1" text-anchor="start" fill="#3a3a3a" stroke="#3a3a3a" stroke-width="0.06">0.6705</text>
<line x1="32.90" y1="815.80" x2="41.30" y2="815.80" stroke="#6c7880" stroke-width="1.6" stroke-linecap="butt"/>
<text x="44.70" y="817.90" font-size="6.1" text-anchor="start" fill="#3a3a3a" stroke="#3a3a3a" stroke-width="0.06">0.7272</text>
<line x1="32.90" y1="822.40" x2="42.10" y2="822.40" stroke="#4b84cf" stroke-width="1.7" stroke-linecap="butt"/>
<text x="44.70" y="824.50" font-size="6.1" text-anchor="start" fill="#3a3a3a" stroke="#3a3a3a" stroke-width="0.06">0.9090</text>
<line x1="69.70" y1="799.90" x2="84.60" y2="799.90" stroke="#4b84cf" stroke-width="1.9" stroke-linecap="butt"/>
<text x="89.00" y="801.87" font-size="5.7" text-anchor="start" fill="#505050" stroke="#505050" stroke-width="0.06">Clair3-RNA</text>
<line x1="69.70" y1="807.70" x2="77.90" y2="807.70" stroke="#6c7880" stroke-width="1.7" stroke-linecap="butt"/>
<line x1="80.30" y1="807.70" x2="81.30" y2="807.70" stroke="#6c7880" stroke-width="1.7" stroke-linecap="butt"/>
<line x1="83.30" y1="807.70" x2="84.30" y2="807.70" stroke="#6c7880" stroke-width="1.7" stroke-linecap="butt"/>
<text x="89.00" y="809.67" font-size="5.7" text-anchor="start" fill="#505050" stroke="#505050" stroke-width="0.06">Clair3</text>
<line x1="69.70" y1="815.50" x2="76.30" y2="815.50" stroke="#f6b42c" stroke-width="1.9" stroke-linecap="butt"/>
<line x1="83.10" y1="815.50" x2="84.30" y2="815.50" stroke="#f6b42c" stroke-width="1.9" stroke-linecap="butt"/>
<text x="89.00" y="817.47" font-size="5.7" text-anchor="start" fill="#505050" stroke="#505050" stroke-width="0.06">longcallR-nn</text>
<line x1="69.70" y1="823.30" x2="74.10" y2="823.30" stroke="#78b86b" stroke-width="1.5" stroke-linecap="butt"/>
<line x1="76.80" y1="823.30" x2="81.30" y2="823.30" stroke="#78b86b" stroke-width="1.5" stroke-linecap="butt"/>
<line x1="83.40" y1="823.30" x2="84.40" y2="823.30" stroke="#78b86b" stroke-width="1.5" stroke-linecap="butt"/>
<text x="89.00" y="825.27" font-size="5.7" text-anchor="start" fill="#505050" stroke="#505050" stroke-width="0.06">longcallR</text>
<text transform="translate(4.60,777.20) rotate(-90)" x="0" y="3.07" font-size="8.9" text-anchor="middle" fill="#231f20" stroke="#231f20" stroke-width="0.22">Precision</text>
<text x="307.00" y="713.37" font-size="8.9" text-anchor="middle" fill="#231f20" stroke="#231f20" stroke-width="0.22">ONT cDNA</text>
<text x="307.00" y="721.97" font-size="8.9" text-anchor="middle" fill="#231f20" stroke="#231f20" stroke-width="0.22">(HG004 DP≥4,AD≥2)</text>
<text x="210.00" y="830.86" font-size="7.7" text-anchor="end" fill="#333" stroke="#333" stroke-width="0.12">0.0</text>
<text x="210.00" y="810.46" font-size="7.7" text-anchor="end" fill="#333" stroke="#333" stroke-width="0.12">0.2</text>
<text x="210.00" y="790.06" font-size="7.7" text-anchor="end" fill="#333" stroke="#333" stroke-width="0.12">0.4</text>
<text x="210.00" y="769.66" font-size="7.7" text-anchor="end" fill="#333" stroke="#333" stroke-width="0.12">0.6</text>
<text x="210.00" y="749.26" font-size="7.7" text-anchor="end" fill="#333" stroke="#333" stroke-width="0.12">0.8</text>
<text x="210.00" y="728.86" font-size="7.7" text-anchor="end" fill="#333" stroke="#333" stroke-width="0.12">1.0</text>
<text x="214.20" y="837.96" font-size="7.7" text-anchor="middle" fill="#333" stroke="#333" stroke-width="0.12">0.0</text>
<text x="247.16" y="837.96" font-size="7.7" text-anchor="middle" fill="#333" stroke="#333" stroke-width="0.12">0.2</text>
<text x="280.12" y="837.96" font-size="7.7" text-anchor="middle" fill="#333" stroke="#333" stroke-width="0.12">0.4</text>
<text x="313.08" y="837.96" font-size="7.7" text-anchor="middle" fill="#333" stroke="#333" stroke-width="0.12">0.6</text>
<text x="346.04" y="837.96" font-size="7.7" text-anchor="middle" fill="#333" stroke="#333" stroke-width="0.12">0.8</text>
<text x="379.00" y="837.96" font-size="7.7" text-anchor="middle" fill="#333" stroke="#333" stroke-width="0.12">1.0</text>
<path d="M214.20,733.34 C215.85,732.63 220.54,729.89 224.09,729.06 C227.63,728.22 230.32,728.17 235.46,728.34 C240.60,728.51 250.26,729.16 254.91,730.08 C259.55,730.99 261.44,732.25 263.31,733.85 C265.18,735.45 265.65,738.69 266.11,739.66" stroke="#78b86b" stroke-width="1.25" fill="none" stroke-linecap="butt" stroke-linejoin="miter" stroke-dasharray="4.4,2.7"/>
<path d="M266.11,739.66 C266.30,742.52 266.91,750.70 267.27,756.80 C267.62,762.90 268.09,773.04 268.25,776.28" stroke="#78b86b" stroke-width="1.25" fill="none" stroke-linecap="butt" stroke-linejoin="miter" stroke-dasharray="4.4,2.7"/>
<circle cx="266.11" cy="739.66" r="1.95" fill="#78b86b" stroke="#2a2a2a" stroke-width="0.6"/>
<path d="M214.20,735.38 C214.97,734.94 215.27,732.39 218.81,732.73 C222.36,733.07 228.04,734.56 235.46,737.42 C242.88,740.28 253.59,743.93 263.31,749.86 C273.03,755.80 281.77,765.38 293.80,773.02 C305.83,780.65 328.54,791.89 335.49,795.66" stroke="#6c7880" stroke-width="1.4" fill="none" stroke-linecap="butt" stroke-linejoin="miter" stroke-dasharray="5.2,2.2,1,2.2"/>
<circle cx="293.80" cy="773.02" r="1.95" fill="#6c7880" stroke="#2a2a2a" stroke-width="0.6"/>
<path d="M214.20,743.54 C214.75,744.56 216.26,748.33 217.50,749.66 C218.73,750.99 219.42,751.75 221.62,751.50 C223.81,751.24 227.52,749.37 230.68,748.13 C233.84,746.89 237.27,744.99 240.57,744.05 C243.86,743.12 246.61,742.78 250.46,742.52 C254.30,742.27 259.52,742.18 263.64,742.52 C267.76,742.86 271.88,743.37 275.18,744.56 C278.47,745.75 280.67,747.45 283.42,749.66 C286.16,751.87 290.28,756.46 291.66,757.82" stroke="#f6b42c" stroke-width="1.6" fill="none" stroke-linecap="butt" stroke-linejoin="miter" stroke-dasharray="5,3"/>
<circle cx="291.66" cy="757.82" r="1.95" fill="#f6b42c" stroke="#2a2a2a" stroke-width="0.6"/>
<path d="M214.20,734.67 C215.44,735.36 218.07,737.78 221.62,738.85 C225.16,739.92 228.51,740.40 235.46,741.09 C242.41,741.79 254.03,742.49 263.31,743.03 C272.59,743.57 284.21,743.66 291.16,744.36 C298.11,745.05 300.39,745.82 305.00,747.21 C309.62,748.61 314.84,750.78 318.85,752.72 C322.86,754.66 325.28,756.15 329.07,758.84 C332.86,761.53 339.50,767.17 341.59,768.84" stroke="#4b84cf" stroke-width="1.3" fill="none" stroke-linecap="butt" stroke-linejoin="miter"/>
<circle cx="329.07" cy="758.84" r="1.95" fill="#4b84cf" stroke="#2a2a2a" stroke-width="0.6"/>
<line x1="214.20" y1="725.20" x2="214.20" y2="828.20" stroke="#262626" stroke-width="1.25" stroke-linecap="butt"/>
<line x1="214.20" y1="828.20" x2="379.00" y2="828.20" stroke="#262626" stroke-width="1.25" stroke-linecap="butt"/>
<text x="222.00" y="793.95" font-size="6.8" text-anchor="start" fill="#444" stroke="#444" stroke-width="0.12">AUPRC</text>
<line x1="221.70" y1="802.60" x2="226.50" y2="802.60" stroke="#78b86b" stroke-width="1.5" stroke-linecap="butt"/>
<line x1="229.30" y1="802.60" x2="230.30" y2="802.60" stroke="#78b86b" stroke-width="1.5" stroke-linecap="butt"/>
<text x="233.50" y="804.70" font-size="6.1" text-anchor="start" fill="#3a3a3a" stroke="#3a3a3a" stroke-width="0.06">0.2539</text>
<line x1="221.70" y1="809.20" x2="228.20" y2="809.20" stroke="#f6b42c" stroke-width="1.5" stroke-linecap="butt"/>
<text x="233.50" y="811.30" font-size="6.1" text-anchor="start" fill="#3a3a3a" stroke="#3a3a3a" stroke-width="0.06">0.3783</text>
<line x1="221.70" y1="815.80" x2="230.10" y2="815.80" stroke="#6c7880" stroke-width="1.6" stroke-linecap="butt"/>
<text x="233.50" y="817.90" font-size="6.1" text-anchor="start" fill="#3a3a3a" stroke="#3a3a3a" stroke-width="0.06">0.4812</text>
<line x1="221.70" y1="822.40" x2="230.90" y2="822.40" stroke="#4b84cf" stroke-width="1.7" stroke-linecap="butt"/>
<text x="233.50" y="824.50" font-size="6.1" text-anchor="start" fill="#3a3a3a" stroke="#3a3a3a" stroke-width="0.06">0.6093</text>
<line x1="258.50" y1="799.90" x2="273.40" y2="799.90" stroke="#4b84cf" stroke-width="1.9" stroke-linecap="butt"/>
<text x="277.80" y="801.87" font-size="5.7" text-anchor="start" fill="#505050" stroke="#505050" stroke-width="0.06">Clair3-RNA</text>
<line x1="258.50" y1="807.70" x2="266.70" y2="807.70" stroke="#6c7880" stroke-width="1.7" stroke-linecap="butt"/>
<line x1="269.10" y1="807.70" x2="270.10" y2="807.70" stroke="#6c7880" stroke-width="1.7" stroke-linecap="butt"/>
<line x1="272.10" y1="807.70" x2="273.10" y2="807.70" stroke="#6c7880" stroke-width="1.7" stroke-linecap="butt"/>
<text x="277.80" y="809.67" font-size="5.7" text-anchor="start" fill="#505050" stroke="#505050" stroke-width="0.06">Clair3</text>
<line x1="258.50" y1="815.50" x2="265.10" y2="815.50" stroke="#f6b42c" stroke-width="1.9" stroke-linecap="butt"/>
<line x1="271.90" y1="815.50" x2="273.10" y2="815.50" stroke="#f6b42c" stroke-width="1.9" stroke-linecap="butt"/>
<text x="277.80" y="817.47" font-size="5.7" text-anchor="start" fill="#505050" stroke="#505050" stroke-width="0.06">longcallR-nn</text>
<line x1="258.50" y1="823.30" x2="262.90" y2="823.30" stroke="#78b86b" stroke-width="1.5" stroke-linecap="butt"/>
<line x1="265.60" y1="823.30" x2="270.10" y2="823.30" stroke="#78b86b" stroke-width="1.5" stroke-linecap="butt"/>
<line x1="272.20" y1="823.30" x2="273.20" y2="823.30" stroke="#78b86b" stroke-width="1.5" stroke-linecap="butt"/>
<text x="277.80" y="825.27" font-size="5.7" text-anchor="start" fill="#505050" stroke="#505050" stroke-width="0.06">longcallR</text>
<text x="109.00" y="849.97" font-size="8.9" text-anchor="middle" fill="#231f20" stroke="#231f20" stroke-width="0.22">PacBio Iso-Seq</text>
<text x="109.00" y="858.57" font-size="8.9" text-anchor="middle" fill="#231f20" stroke="#231f20" stroke-width="0.22">(HG004 DP≥4,AD≥2)</text>
<text x="21.20" y="967.46" font-size="7.7" text-anchor="end" fill="#333" stroke="#333" stroke-width="0.12">0.0</text>
<text x="21.20" y="947.04" font-size="7.7" text-anchor="end" fill="#333" stroke="#333" stroke-width="0.12">0.2</text>
<text x="21.20" y="926.62" font-size="7.7" text-anchor="end" fill="#333" stroke="#333" stroke-width="0.12">0.4</text>
<text x="21.20" y="906.20" font-size="7.7" text-anchor="end" fill="#333" stroke="#333" stroke-width="0.12">0.6</text>
<text x="21.20" y="885.78" font-size="7.7" text-anchor="end" fill="#333" stroke="#333" stroke-width="0.12">0.8</text>
<text x="21.20" y="865.36" font-size="7.7" text-anchor="end" fill="#333" stroke="#333" stroke-width="0.12">1.0</text>
<text x="25.40" y="974.46" font-size="7.7" text-anchor="middle" fill="#333" stroke="#333" stroke-width="0.12">0.0</text>
<text x="58.30" y="974.46" font-size="7.7" text-anchor="middle" fill="#333" stroke="#333" stroke-width="0.12">0.2</text>
<text x="91.20" y="974.46" font-size="7.7" text-anchor="middle" fill="#333" stroke="#333" stroke-width="0.12">0.4</text>
<text x="124.10" y="974.46" font-size="7.7" text-anchor="middle" fill="#333" stroke="#333" stroke-width="0.12">0.6</text>
<text x="157.00" y="974.46" font-size="7.7" text-anchor="middle" fill="#333" stroke="#333" stroke-width="0.12">0.8</text>
<text x="189.90" y="974.46" font-size="7.7" text-anchor="middle" fill="#333" stroke="#333" stroke-width="0.12">1.0</text>
<path d="M25.89,954.90 C26.22,953.13 27.10,948.02 27.87,944.28 C28.64,940.53 29.62,936.16 30.50,932.43 C31.38,928.71 32.03,925.42 33.13,921.92 C34.23,918.41 35.54,914.46 37.08,911.40 C38.61,908.34 40.37,905.96 42.34,903.54 C44.32,901.12 46.07,898.78 48.92,896.90 C51.77,895.03 55.50,893.50 59.45,892.31 C63.40,891.12 68.25,890.28 72.61,889.76 C76.97,889.23 79.38,889.02 85.61,889.14 C91.83,889.26 101.12,889.71 109.95,890.47 C118.78,891.24 129.50,892.22 138.58,893.74 C147.65,895.25 157.22,897.24 164.40,899.56 C171.59,901.87 178.80,906.28 181.68,907.62" stroke="#6c7880" stroke-width="1.4" fill="none" stroke-linecap="butt" stroke-linejoin="miter" stroke-dasharray="5.2,2.2,1,2.2"/>
<path d="M181.68,907.62 L182.99,918.14" stroke="#6c7880" stroke-width="1.4" fill="none" stroke-linecap="butt" stroke-linejoin="miter" stroke-dasharray="5.2,2.2,1,2.2"/>
<circle cx="164.40" cy="899.56" r="1.95" fill="#6c7880" stroke="#2a2a2a" stroke-width="0.6"/>
<path d="M25.40,863.72 C33.62,863.91 59.59,864.20 74.75,864.84 C89.91,865.49 106.64,866.68 116.37,867.60 C126.10,868.52 130.35,869.90 133.15,870.36" stroke="#78b86b" stroke-width="1.25" fill="none" stroke-linecap="butt" stroke-linejoin="miter" stroke-dasharray="4.4,2.7"/>
<path d="M133.15,870.36 L133.97,875.16" stroke="#78b86b" stroke-width="1.25" fill="none" stroke-linecap="butt" stroke-linejoin="miter" stroke-dasharray="4.4,2.7"/>
<circle cx="133.15" cy="870.36" r="1.95" fill="#78b86b" stroke="#2a2a2a" stroke-width="0.6"/>
<path d="M25.40,862.70 C27.13,863.16 32.28,864.74 35.76,865.46 C39.25,866.17 42.34,866.56 46.29,866.99 C50.24,867.41 52.90,867.57 59.45,868.01 C66.00,868.45 77.19,869.17 85.61,869.64 C94.02,870.12 101.12,870.15 109.95,870.87 C118.78,871.58 130.10,872.86 138.58,873.93 C147.05,875.00 155.00,876.31 160.78,877.30 C166.57,878.29 171.20,879.43 173.29,879.85" stroke="#e6605a" stroke-width="1.4" fill="none" stroke-linecap="butt" stroke-linejoin="miter" stroke-dasharray="5.2,4.3"/>
<circle cx="173.29" cy="879.85" r="1.95" fill="#e6605a" stroke="#2a2a2a" stroke-width="0.6"/>
<path d="M25.40,863.72 C39.66,863.91 89.75,864.33 110.94,864.84 C132.13,865.35 141.78,865.87 152.56,866.78 C163.33,867.70 171.75,869.76 175.59,870.36" stroke="#7d4e9e" stroke-width="1.3" fill="none" stroke-linecap="butt" stroke-linejoin="miter" stroke-dasharray="1,1.8"/>
<circle cx="175.59" cy="870.36" r="1.95" fill="#7d4e9e" stroke="#2a2a2a" stroke-width="0.6"/>
<path d="M25.40,863.41 C35.02,863.45 64.58,863.19 83.14,863.62 C101.70,864.04 127.83,865.58 136.77,865.97" stroke="#f6b42c" stroke-width="1.6" fill="none" stroke-linecap="butt" stroke-linejoin="miter" stroke-dasharray="5,3"/>
<circle cx="136.77" cy="865.97" r="1.95" fill="#f6b42c" stroke="#2a2a2a" stroke-width="0.6"/>
<path d="M25.40,862.70 C39.66,862.92 89.01,863.60 110.94,864.03 C132.87,864.45 145.57,864.79 157.00,865.25 C168.43,865.71 175.78,866.53 179.54,866.78" stroke="#4b84cf" stroke-width="1.3" fill="none" stroke-linecap="butt" stroke-linejoin="miter"/>
<circle cx="179.54" cy="866.78" r="1.95" fill="#4b84cf" stroke="#2a2a2a" stroke-width="0.6"/>
<line x1="25.40" y1="861.70" x2="25.40" y2="964.80" stroke="#262626" stroke-width="1.25" stroke-linecap="butt"/>
<line x1="25.40" y1="964.80" x2="189.90" y2="964.80" stroke="#262626" stroke-width="1.25" stroke-linecap="butt"/>
<text x="33.20" y="916.95" font-size="6.8" text-anchor="start" fill="#444" stroke="#444" stroke-width="0.12">AUPRC</text>
<line x1="32.90" y1="925.70" x2="37.70" y2="925.70" stroke="#78b86b" stroke-width="1.5" stroke-linecap="butt"/>
<line x1="40.50" y1="925.70" x2="41.50" y2="925.70" stroke="#78b86b" stroke-width="1.5" stroke-linecap="butt"/>
<text x="44.70" y="927.80" font-size="6.1" text-anchor="start" fill="#3a3a3a" stroke="#3a3a3a" stroke-width="0.06">0.5944</text>
<line x1="32.90" y1="932.42" x2="39.40" y2="932.42" stroke="#f6b42c" stroke-width="1.5" stroke-linecap="butt"/>
<text x="44.70" y="934.52" font-size="6.1" text-anchor="start" fill="#3a3a3a" stroke="#3a3a3a" stroke-width="0.06">0.6713</text>
<line x1="32.90" y1="939.14" x2="39.40" y2="939.14" stroke="#e6605a" stroke-width="1.5" stroke-linecap="butt"/>
<text x="44.70" y="941.24" font-size="6.1" text-anchor="start" fill="#3a3a3a" stroke="#3a3a3a" stroke-width="0.06">0.8455</text>
<line x1="33.40" y1="945.86" x2="34.50" y2="945.86" stroke="#7d4e9e" stroke-width="1.4" stroke-linecap="butt"/>
<line x1="36.70" y1="945.86" x2="37.80" y2="945.86" stroke="#7d4e9e" stroke-width="1.4" stroke-linecap="butt"/>
<line x1="40.00" y1="945.86" x2="41.10" y2="945.86" stroke="#7d4e9e" stroke-width="1.4" stroke-linecap="butt"/>
<text x="44.70" y="947.96" font-size="6.1" text-anchor="start" fill="#3a3a3a" stroke="#3a3a3a" stroke-width="0.06">0.9086</text>
<line x1="32.90" y1="952.58" x2="41.30" y2="952.58" stroke="#6c7880" stroke-width="1.6" stroke-linecap="butt"/>
<text x="44.70" y="954.68" font-size="6.1" text-anchor="start" fill="#3a3a3a" stroke="#3a3a3a" stroke-width="0.06">0.6273</text>
<line x1="32.90" y1="959.30" x2="42.10" y2="959.30" stroke="#4b84cf" stroke-width="1.7" stroke-linecap="butt"/>
<text x="44.70" y="961.40" font-size="6.1" text-anchor="start" fill="#3a3a3a" stroke="#3a3a3a" stroke-width="0.06">0.9244</text>
<line x1="69.70" y1="921.80" x2="84.60" y2="921.80" stroke="#4b84cf" stroke-width="1.9" stroke-linecap="butt"/>
<text x="89.00" y="923.77" font-size="5.7" text-anchor="start" fill="#505050" stroke="#505050" stroke-width="0.06">Clair3-RNA</text>
<line x1="69.70" y1="929.46" x2="77.90" y2="929.46" stroke="#6c7880" stroke-width="1.7" stroke-linecap="butt"/>
<line x1="80.30" y1="929.46" x2="81.30" y2="929.46" stroke="#6c7880" stroke-width="1.7" stroke-linecap="butt"/>
<line x1="83.30" y1="929.46" x2="84.30" y2="929.46" stroke="#6c7880" stroke-width="1.7" stroke-linecap="butt"/>
<text x="89.00" y="931.43" font-size="5.7" text-anchor="start" fill="#505050" stroke="#505050" stroke-width="0.06">Clair3</text>
<line x1="69.80" y1="937.12" x2="71.00" y2="937.12" stroke="#7d4e9e" stroke-width="1.4" stroke-linecap="butt"/>
<line x1="73.10" y1="937.12" x2="74.30" y2="937.12" stroke="#7d4e9e" stroke-width="1.4" stroke-linecap="butt"/>
<line x1="76.40" y1="937.12" x2="77.60" y2="937.12" stroke="#7d4e9e" stroke-width="1.4" stroke-linecap="butt"/>
<line x1="79.70" y1="937.12" x2="80.90" y2="937.12" stroke="#7d4e9e" stroke-width="1.4" stroke-linecap="butt"/>
<line x1="83.00" y1="937.12" x2="84.20" y2="937.12" stroke="#7d4e9e" stroke-width="1.4" stroke-linecap="butt"/>
<text x="89.00" y="939.09" font-size="5.7" text-anchor="start" fill="#505050" stroke="#505050" stroke-width="0.06">DeepVariant</text>
<line x1="69.70" y1="944.78" x2="76.50" y2="944.78" stroke="#e6605a" stroke-width="1.8" stroke-linecap="butt"/>
<line x1="83.10" y1="944.78" x2="84.30" y2="944.78" stroke="#e6605a" stroke-width="1.8" stroke-linecap="butt"/>
<text x="89.00" y="946.75" font-size="5.7" text-anchor="start" fill="#505050" stroke="#505050" stroke-width="0.06">CTAT</text>
<line x1="69.70" y1="952.44" x2="76.30" y2="952.44" stroke="#f6b42c" stroke-width="1.9" stroke-linecap="butt"/>
<line x1="83.10" y1="952.44" x2="84.30" y2="952.44" stroke="#f6b42c" stroke-width="1.9" stroke-linecap="butt"/>
<text x="89.00" y="954.41" font-size="5.7" text-anchor="start" fill="#505050" stroke="#505050" stroke-width="0.06">longcallR-nn</text>
<line x1="69.70" y1="960.10" x2="74.10" y2="960.10" stroke="#78b86b" stroke-width="1.5" stroke-linecap="butt"/>
<line x1="76.80" y1="960.10" x2="81.30" y2="960.10" stroke="#78b86b" stroke-width="1.5" stroke-linecap="butt"/>
<line x1="83.40" y1="960.10" x2="84.40" y2="960.10" stroke="#78b86b" stroke-width="1.5" stroke-linecap="butt"/>
<text x="89.00" y="962.07" font-size="5.7" text-anchor="start" fill="#505050" stroke="#505050" stroke-width="0.06">longcallR</text>
<text transform="translate(4.60,921.00) rotate(-90)" x="0" y="3.07" font-size="8.9" text-anchor="middle" fill="#231f20" stroke="#231f20" stroke-width="0.22">Precision</text>
<text x="105.40" y="982.77" font-size="9.2" text-anchor="middle" fill="#231f20" stroke="#231f20" stroke-width="0.22">Recall</text>
<text x="307.00" y="849.97" font-size="8.9" text-anchor="middle" fill="#231f20" stroke="#231f20" stroke-width="0.22">PacBio MAS-Seq</text>
<text x="307.00" y="858.57" font-size="8.9" text-anchor="middle" fill="#231f20" stroke="#231f20" stroke-width="0.22">(HG004 DP≥4,AD≥2)</text>
<text x="210.00" y="967.46" font-size="7.7" text-anchor="end" fill="#333" stroke="#333" stroke-width="0.12">0.5</text>
<text x="210.00" y="947.04" font-size="7.7" text-anchor="end" fill="#333" stroke="#333" stroke-width="0.12">0.6</text>
<text x="210.00" y="926.62" font-size="7.7" text-anchor="end" fill="#333" stroke="#333" stroke-width="0.12">0.7</text>
<text x="210.00" y="906.20" font-size="7.7" text-anchor="end" fill="#333" stroke="#333" stroke-width="0.12">0.8</text>
<text x="210.00" y="885.78" font-size="7.7" text-anchor="end" fill="#333" stroke="#333" stroke-width="0.12">0.9</text>
<text x="210.00" y="865.36" font-size="7.7" text-anchor="end" fill="#333" stroke="#333" stroke-width="0.12">1.0</text>
<text x="214.20" y="974.46" font-size="7.7" text-anchor="middle" fill="#333" stroke="#333" stroke-width="0.12">0.0</text>
<text x="247.16" y="974.46" font-size="7.7" text-anchor="middle" fill="#333" stroke="#333" stroke-width="0.12">0.2</text>
<text x="280.12" y="974.46" font-size="7.7" text-anchor="middle" fill="#333" stroke="#333" stroke-width="0.12">0.4</text>
<text x="313.08" y="974.46" font-size="7.7" text-anchor="middle" fill="#333" stroke="#333" stroke-width="0.12">0.6</text>
<text x="346.04" y="974.46" font-size="7.7" text-anchor="middle" fill="#333" stroke="#333" stroke-width="0.12">0.8</text>
<text x="379.00" y="974.46" font-size="7.7" text-anchor="middle" fill="#333" stroke="#333" stroke-width="0.12">1.0</text>
<path d="M214.20,866.78 C218.48,866.61 232.22,865.76 239.91,865.76 C247.60,865.76 253.64,865.80 260.34,866.78 C267.05,867.77 274.52,870.05 280.12,871.68 C285.72,873.32 289.35,874.85 293.96,876.59 C298.58,878.32 303.19,880.13 307.81,882.10 C312.42,884.07 317.01,886.11 321.65,888.43 C326.29,890.74 331.02,892.85 335.66,895.98 C340.30,899.12 345.57,903.98 349.50,907.22 C353.43,910.45 356.67,912.63 359.22,915.38 C361.78,918.14 363.43,919.60 364.83,923.76 C366.23,927.91 367.16,937.54 367.63,940.30" stroke="#6c7880" stroke-width="1.4" fill="none" stroke-linecap="butt" stroke-linejoin="miter" stroke-dasharray="5.2,2.2,1,2.2"/>
<circle cx="359.22" cy="915.38" r="1.95" fill="#6c7880" stroke="#2a2a2a" stroke-width="0.6"/>
<path d="M214.20,864.74 C216.78,865.39 225.43,867.87 229.69,868.62 C233.95,869.37 234.75,868.86 239.74,869.23 C244.74,869.61 253.89,870.15 259.68,870.87 C265.48,871.58 270.09,872.57 274.52,873.52 C278.94,874.48 281.82,875.73 286.22,876.59 C290.61,877.44 296.57,877.71 300.88,878.63 C305.20,879.55 308.14,880.94 312.09,882.10 C316.05,883.26 320.47,884.07 324.62,885.57 C328.76,887.07 333.76,889.21 336.98,891.08 C340.19,892.96 341.59,894.59 343.90,896.80 C346.20,899.01 348.95,902.18 350.82,904.36 C352.69,906.53 353.81,906.88 355.10,909.87 C356.39,912.87 357.99,920.25 358.56,922.33" stroke="#e6605a" stroke-width="1.4" fill="none" stroke-linecap="butt" stroke-linejoin="miter" stroke-dasharray="5.2,4.3"/>
<circle cx="350.82" cy="904.36" r="1.95" fill="#e6605a" stroke="#2a2a2a" stroke-width="0.6"/>
<path d="M214.20,864.74 C222.44,865.01 247.16,865.63 263.64,866.38 C280.12,867.12 302.37,868.32 313.08,869.23 C323.79,870.15 324.40,870.70 327.91,871.89 C331.43,873.08 333.13,875.63 334.17,876.38" stroke="#78b86b" stroke-width="1.25" fill="none" stroke-linecap="butt" stroke-linejoin="miter" stroke-dasharray="4.4,2.7"/>
<path d="M334.17,876.38 C334.37,877.50 334.97,880.53 335.33,883.12 C335.69,885.71 336.15,890.44 336.32,891.90" stroke="#78b86b" stroke-width="1.25" fill="none" stroke-linecap="butt" stroke-linejoin="miter" stroke-dasharray="4.4,2.7"/>
<circle cx="334.17" cy="876.38" r="1.95" fill="#78b86b" stroke="#2a2a2a" stroke-width="0.6"/>
<path d="M214.20,866.78 C216.67,867.26 225.60,869.47 229.03,869.64 C232.47,869.81 223.54,868.11 234.80,867.81 C246.06,867.50 282.18,867.46 296.60,867.81 C311.02,868.15 315.47,868.86 321.32,869.85 C327.17,870.83 329.97,873.08 331.70,873.73" stroke="#f6b42c" stroke-width="1.6" fill="none" stroke-linecap="butt" stroke-linejoin="miter" stroke-dasharray="5,3"/>
<circle cx="331.70" cy="873.73" r="1.95" fill="#f6b42c" stroke="#2a2a2a" stroke-width="0.6"/>
<path d="M214.20,864.13 C227.03,864.37 270.95,864.64 291.16,865.56 C311.38,866.48 323.79,868.21 335.49,869.64 C347.19,871.07 357.05,873.39 361.37,874.14" stroke="#7d4e9e" stroke-width="1.3" fill="none" stroke-linecap="butt" stroke-linejoin="miter" stroke-dasharray="1,1.8"/>
<circle cx="361.37" cy="874.14" r="1.95" fill="#7d4e9e" stroke="#2a2a2a" stroke-width="0.6"/>
<path d="M214.20,863.72 C227.03,863.76 271.41,863.41 291.16,863.93 C310.91,864.44 322.97,865.83 332.69,866.78 C342.41,867.74 344.09,868.76 349.50,869.64 C354.91,870.53 362.55,871.68 365.16,872.09" stroke="#4b84cf" stroke-width="1.3" fill="none" stroke-linecap="butt" stroke-linejoin="miter"/>
<circle cx="365.16" cy="872.09" r="1.95" fill="#4b84cf" stroke="#2a2a2a" stroke-width="0.6"/>
<line x1="214.20" y1="861.70" x2="214.20" y2="964.80" stroke="#262626" stroke-width="1.25" stroke-linecap="butt"/>
<line x1="214.20" y1="964.80" x2="379.00" y2="964.80" stroke="#262626" stroke-width="1.25" stroke-linecap="butt"/>
<text x="222.00" y="916.95" font-size="6.8" text-anchor="start" fill="#444" stroke="#444" stroke-width="0.12">AUPRC</text>
<line x1="221.70" y1="925.70" x2="226.50" y2="925.70" stroke="#78b86b" stroke-width="1.5" stroke-linecap="butt"/>
<line x1="229.30" y1="925.70" x2="230.30" y2="925.70" stroke="#78b86b" stroke-width="1.5" stroke-linecap="butt"/>
<text x="233.50" y="927.80" font-size="6.1" text-anchor="start" fill="#3a3a3a" stroke="#3a3a3a" stroke-width="0.06">0.6494</text>
<line x1="221.70" y1="932.42" x2="228.20" y2="932.42" stroke="#f6b42c" stroke-width="1.5" stroke-linecap="butt"/>
<text x="233.50" y="934.52" font-size="6.1" text-anchor="start" fill="#3a3a3a" stroke="#3a3a3a" stroke-width="0.06">0.6999</text>
<line x1="221.70" y1="939.14" x2="228.20" y2="939.14" stroke="#e6605a" stroke-width="1.5" stroke-linecap="butt"/>
<text x="233.50" y="941.24" font-size="6.1" text-anchor="start" fill="#3a3a3a" stroke="#3a3a3a" stroke-width="0.06">0.8061</text>
<line x1="222.20" y1="945.86" x2="223.30" y2="945.86" stroke="#7d4e9e" stroke-width="1.4" stroke-linecap="butt"/>
<line x1="225.50" y1="945.86" x2="226.60" y2="945.86" stroke="#7d4e9e" stroke-width="1.4" stroke-linecap="butt"/>
<line x1="228.80" y1="945.86" x2="229.90" y2="945.86" stroke="#7d4e9e" stroke-width="1.4" stroke-linecap="butt"/>
<text x="233.50" y="947.96" font-size="6.1" text-anchor="start" fill="#3a3a3a" stroke="#3a3a3a" stroke-width="0.06">0.8768</text>
<line x1="221.70" y1="952.58" x2="230.10" y2="952.58" stroke="#6c7880" stroke-width="1.6" stroke-linecap="butt"/>
<text x="233.50" y="954.68" font-size="6.1" text-anchor="start" fill="#3a3a3a" stroke="#3a3a3a" stroke-width="0.06">0.8385</text>
<line x1="221.70" y1="959.30" x2="230.90" y2="959.30" stroke="#4b84cf" stroke-width="1.7" stroke-linecap="butt"/>
<text x="233.50" y="961.40" font-size="6.1" text-anchor="start" fill="#3a3a3a" stroke="#3a3a3a" stroke-width="0.06">0.9021</text>
<line x1="258.50" y1="921.80" x2="273.40" y2="921.80" stroke="#4b84cf" stroke-width="1.9" stroke-linecap="butt"/>
<text x="277.80" y="923.77" font-size="5.7" text-anchor="start" fill="#505050" stroke="#505050" stroke-width="0.06">Clair3-RNA</text>
<line x1="258.50" y1="929.46" x2="266.70" y2="929.46" stroke="#6c7880" stroke-width="1.7" stroke-linecap="butt"/>
<line x1="269.10" y1="929.46" x2="270.10" y2="929.46" stroke="#6c7880" stroke-width="1.7" stroke-linecap="butt"/>
<line x1="272.10" y1="929.46" x2="273.10" y2="929.46" stroke="#6c7880" stroke-width="1.7" stroke-linecap="butt"/>
<text x="277.80" y="931.43" font-size="5.7" text-anchor="start" fill="#505050" stroke="#505050" stroke-width="0.06">Clair3</text>
<line x1="258.60" y1="937.12" x2="259.80" y2="937.12" stroke="#7d4e9e" stroke-width="1.4" stroke-linecap="butt"/>
<line x1="261.90" y1="937.12" x2="263.10" y2="937.12" stroke="#7d4e9e" stroke-width="1.4" stroke-linecap="butt"/>
<line x1="265.20" y1="937.12" x2="266.40" y2="937.12" stroke="#7d4e9e" stroke-width="1.4" stroke-linecap="butt"/>
<line x1="268.50" y1="937.12" x2="269.70" y2="937.12" stroke="#7d4e9e" stroke-width="1.4" stroke-linecap="butt"/>
<line x1="271.80" y1="937.12" x2="273.00" y2="937.12" stroke="#7d4e9e" stroke-width="1.4" stroke-linecap="butt"/>
<text x="277.80" y="939.09" font-size="5.7" text-anchor="start" fill="#505050" stroke="#505050" stroke-width="0.06">DeepVariant</text>
<line x1="258.50" y1="944.78" x2="265.30" y2="944.78" stroke="#e6605a" stroke-width="1.8" stroke-linecap="butt"/>
<line x1="271.90" y1="944.78" x2="273.10" y2="944.78" stroke="#e6605a" stroke-width="1.8" stroke-linecap="butt"/>
<text x="277.80" y="946.75" font-size="5.7" text-anchor="start" fill="#505050" stroke="#505050" stroke-width="0.06">CTAT</text>
<line x1="258.50" y1="952.44" x2="265.10" y2="952.44" stroke="#f6b42c" stroke-width="1.9" stroke-linecap="butt"/>
<line x1="271.90" y1="952.44" x2="273.10" y2="952.44" stroke="#f6b42c" stroke-width="1.9" stroke-linecap="butt"/>
<text x="277.80" y="954.41" font-size="5.7" text-anchor="start" fill="#505050" stroke="#505050" stroke-width="0.06">longcallR-nn</text>
<line x1="258.50" y1="960.10" x2="262.90" y2="960.10" stroke="#78b86b" stroke-width="1.5" stroke-linecap="butt"/>
<line x1="265.60" y1="960.10" x2="270.10" y2="960.10" stroke="#78b86b" stroke-width="1.5" stroke-linecap="butt"/>
<line x1="272.20" y1="960.10" x2="273.20" y2="960.10" stroke="#78b86b" stroke-width="1.5" stroke-linecap="butt"/>
<text x="277.80" y="962.07" font-size="5.7" text-anchor="start" fill="#505050" stroke="#505050" stroke-width="0.06">longcallR</text>
<text x="307.00" y="982.77" font-size="9.2" text-anchor="middle" fill="#231f20" stroke="#231f20" stroke-width="0.22">Recall</text>
<text x="374.70" y="721.39" font-size="13.3" text-anchor="start" fill="#000" font-weight="bold" stroke="#000" stroke-width="0.22">e</text>
<line x1="415.20" y1="722.00" x2="415.20" y2="830.10" stroke="#555" stroke-width="0.9" stroke-linecap="butt"/>
<line x1="415.20" y1="830.10" x2="666.40" y2="830.10" stroke="#444" stroke-width="0.9" stroke-linecap="butt"/>
<text x="410.90" y="833.55" font-size="10" text-anchor="end" fill="#2a2a2a" stroke="#2a2a2a" stroke-width="0.22">0</text>
<text x="410.90" y="808.63" font-size="10" text-anchor="end" fill="#2a2a2a" stroke="#2a2a2a" stroke-width="0.22">50</text>
<text x="410.90" y="783.71" font-size="10" text-anchor="end" fill="#2a2a2a" stroke="#2a2a2a" stroke-width="0.22">100</text>
<text x="410.90" y="758.79" font-size="10" text-anchor="end" fill="#2a2a2a" stroke="#2a2a2a" stroke-width="0.22">150</text>
<text x="410.90" y="733.87" font-size="10" text-anchor="end" fill="#2a2a2a" stroke="#2a2a2a" stroke-width="0.22">200</text>
<text transform="translate(386.80,775.90) rotate(-90)" x="0" y="3.45" font-size="10" text-anchor="middle" fill="#231f20" stroke="#231f20" stroke-width="0.22">Runtime (min)</text>
<rect x="426.50" y="815.15" width="11.90" height="14.95" fill="#e4604e" stroke="#333" stroke-width="0.6"/>
<rect x="426.50" y="863.80" width="11.90" height="8.58" fill="#e4604e" stroke="#333" stroke-width="0.6"/>
<rect x="438.40" y="804.18" width="12.90" height="25.92" fill="#fcc966" stroke="#333" stroke-width="0.6"/>
<rect x="438.40" y="863.80" width="12.90" height="102.90" fill="#fcc966" stroke="#333" stroke-width="0.6"/>
<rect x="451.30" y="805.43" width="12.40" height="24.67" fill="#0d6595" stroke="#333" stroke-width="0.6"/>
<rect x="451.30" y="863.80" width="12.40" height="40.43" fill="#0d6595" stroke="#333" stroke-width="0.6"/>
<rect x="488.70" y="813.15" width="11.40" height="16.95" fill="#e4604e" stroke="#333" stroke-width="0.6"/>
<rect x="488.70" y="863.80" width="11.40" height="8.58" fill="#e4604e" stroke="#333" stroke-width="0.6"/>
<rect x="500.10" y="811.16" width="12.90" height="18.94" fill="#fcc966" stroke="#333" stroke-width="0.6"/>
<rect x="500.10" y="863.80" width="12.90" height="59.41" fill="#fcc966" stroke="#333" stroke-width="0.6"/>
<rect x="513.00" y="797.95" width="12.30" height="32.15" fill="#0d6595" stroke="#333" stroke-width="0.6"/>
<rect x="513.00" y="863.80" width="12.30" height="71.05" fill="#0d6595" stroke="#333" stroke-width="0.6"/>
<rect x="543.60" y="821.13" width="12.50" height="8.97" fill="#e4604e" stroke="#333" stroke-width="0.6"/>
<rect x="543.60" y="863.80" width="12.50" height="7.60" fill="#e4604e" stroke="#333" stroke-width="0.6"/>
<rect x="556.10" y="818.64" width="12.10" height="11.46" fill="#fcc966" stroke="#333" stroke-width="0.6"/>
<rect x="556.10" y="863.80" width="12.10" height="5.15" fill="#fcc966" stroke="#333" stroke-width="0.6"/>
<rect x="568.20" y="809.67" width="12.50" height="20.43" fill="#74bcd8" stroke="#333" stroke-width="0.6"/>
<rect x="568.20" y="863.80" width="12.50" height="24.26" fill="#74bcd8" stroke="#333" stroke-width="0.6"/>
<rect x="580.70" y="826.11" width="12.80" height="3.99" fill="#0d6595" stroke="#333" stroke-width="0.6"/>
<rect x="580.70" y="863.80" width="12.80" height="16.05" fill="#0d6595" stroke="#333" stroke-width="0.6"/>
<rect x="605.50" y="804.18" width="12.00" height="25.92" fill="#e4604e" stroke="#333" stroke-width="0.6"/>
<rect x="605.50" y="863.80" width="12.00" height="9.07" fill="#e4604e" stroke="#333" stroke-width="0.6"/>
<rect x="617.50" y="803.19" width="12.80" height="26.91" fill="#fcc966" stroke="#333" stroke-width="0.6"/>
<rect x="617.50" y="863.80" width="12.80" height="71.66" fill="#fcc966" stroke="#333" stroke-width="0.6"/>
<rect x="630.30" y="805.43" width="12.10" height="24.67" fill="#74bcd8" stroke="#333" stroke-width="0.6"/>
<rect x="630.30" y="863.80" width="12.10" height="39.81" fill="#74bcd8" stroke="#333" stroke-width="0.6"/>
<rect x="642.40" y="726.93" width="12.50" height="103.17" fill="#0d6595" stroke="#333" stroke-width="0.6"/>
<rect x="642.40" y="863.80" width="12.50" height="100.45" fill="#0d6595" stroke="#333" stroke-width="0.6"/>
<rect x="416.70" y="723.40" width="90.00" height="58.40" fill="#ffffff" stroke="#e4e4e4" stroke-width="0.8" rx="1.5"/>
<rect x="420.20" y="727.30" width="19.90" height="7.00" fill="#e4604e" stroke="#333" stroke-width="0.6"/>
<text x="448.30" y="734.25" font-size="10" text-anchor="start" fill="#2a2a2a" stroke="#2a2a2a" stroke-width="0.22">Clair3-RNA</text>
<rect x="420.20" y="741.57" width="19.90" height="7.00" fill="#fcc966" stroke="#333" stroke-width="0.6"/>
<text x="448.30" y="748.52" font-size="10" text-anchor="start" fill="#2a2a2a" stroke="#2a2a2a" stroke-width="0.22">Clair3</text>
<rect x="420.20" y="755.84" width="19.90" height="7.00" fill="#0d6595" stroke="#333" stroke-width="0.6"/>
<text x="448.30" y="762.79" font-size="10" text-anchor="start" fill="#2a2a2a" stroke="#2a2a2a" stroke-width="0.22">LongcallR</text>
<rect x="420.20" y="770.11" width="19.90" height="7.00" fill="#74bcd8" stroke="#333" stroke-width="0.6"/>
<text x="448.30" y="777.06" font-size="10" text-anchor="start" fill="#2a2a2a" stroke="#2a2a2a" stroke-width="0.22">DeepVariant</text>
<text x="445.20" y="842.35" font-size="10" text-anchor="middle" fill="#2a2a2a" stroke="#2a2a2a" stroke-width="0.22">ONT</text>
<text x="445.20" y="852.65" font-size="10" text-anchor="middle" fill="#2a2a2a" stroke="#2a2a2a" stroke-width="0.22">cDNA</text>
<text x="506.90" y="842.35" font-size="10" text-anchor="middle" fill="#2a2a2a" stroke="#2a2a2a" stroke-width="0.22">ONT</text>
<text x="506.90" y="852.65" font-size="10" text-anchor="middle" fill="#2a2a2a" stroke="#2a2a2a" stroke-width="0.22">dRNA</text>
<text x="568.20" y="842.35" font-size="10" text-anchor="middle" fill="#2a2a2a" stroke="#2a2a2a" stroke-width="0.22">PacBio</text>
<text x="568.20" y="852.65" font-size="10" text-anchor="middle" fill="#2a2a2a" stroke="#2a2a2a" stroke-width="0.22">Iso-Seq</text>
<text x="630.30" y="842.35" font-size="10" text-anchor="middle" fill="#2a2a2a" stroke="#2a2a2a" stroke-width="0.22">PacBio</text>
<text x="630.30" y="852.65" font-size="10" text-anchor="middle" fill="#2a2a2a" stroke="#2a2a2a" stroke-width="0.22">MAS-Seq</text>
<line x1="415.20" y1="863.80" x2="666.40" y2="863.80" stroke="#8c8c8c" stroke-width="1.0" stroke-linecap="butt"/>
<line x1="415.20" y1="863.80" x2="415.20" y2="972.20" stroke="#8c8c8c" stroke-width="0.9" stroke-linecap="butt"/>
<text x="410.90" y="867.65" font-size="10" text-anchor="end" fill="#2a2a2a" stroke="#2a2a2a" stroke-width="0.22">0</text>
<text x="410.90" y="892.15" font-size="10" text-anchor="end" fill="#2a2a2a" stroke="#2a2a2a" stroke-width="0.22">20</text>
<text x="410.90" y="916.65" font-size="10" text-anchor="end" fill="#2a2a2a" stroke="#2a2a2a" stroke-width="0.22">40</text>
<text x="410.90" y="941.15" font-size="10" text-anchor="end" fill="#2a2a2a" stroke="#2a2a2a" stroke-width="0.22">60</text>
<text x="410.90" y="965.65" font-size="10" text-anchor="end" fill="#2a2a2a" stroke="#2a2a2a" stroke-width="0.22">80</text>
<text transform="translate(393.40,918.30) rotate(-90)" x="0" y="3.45" font-size="10" text-anchor="middle" fill="#231f20" stroke="#231f20" stroke-width="0.22">Memory use (GB)</text>
</svg>
</body></html>
